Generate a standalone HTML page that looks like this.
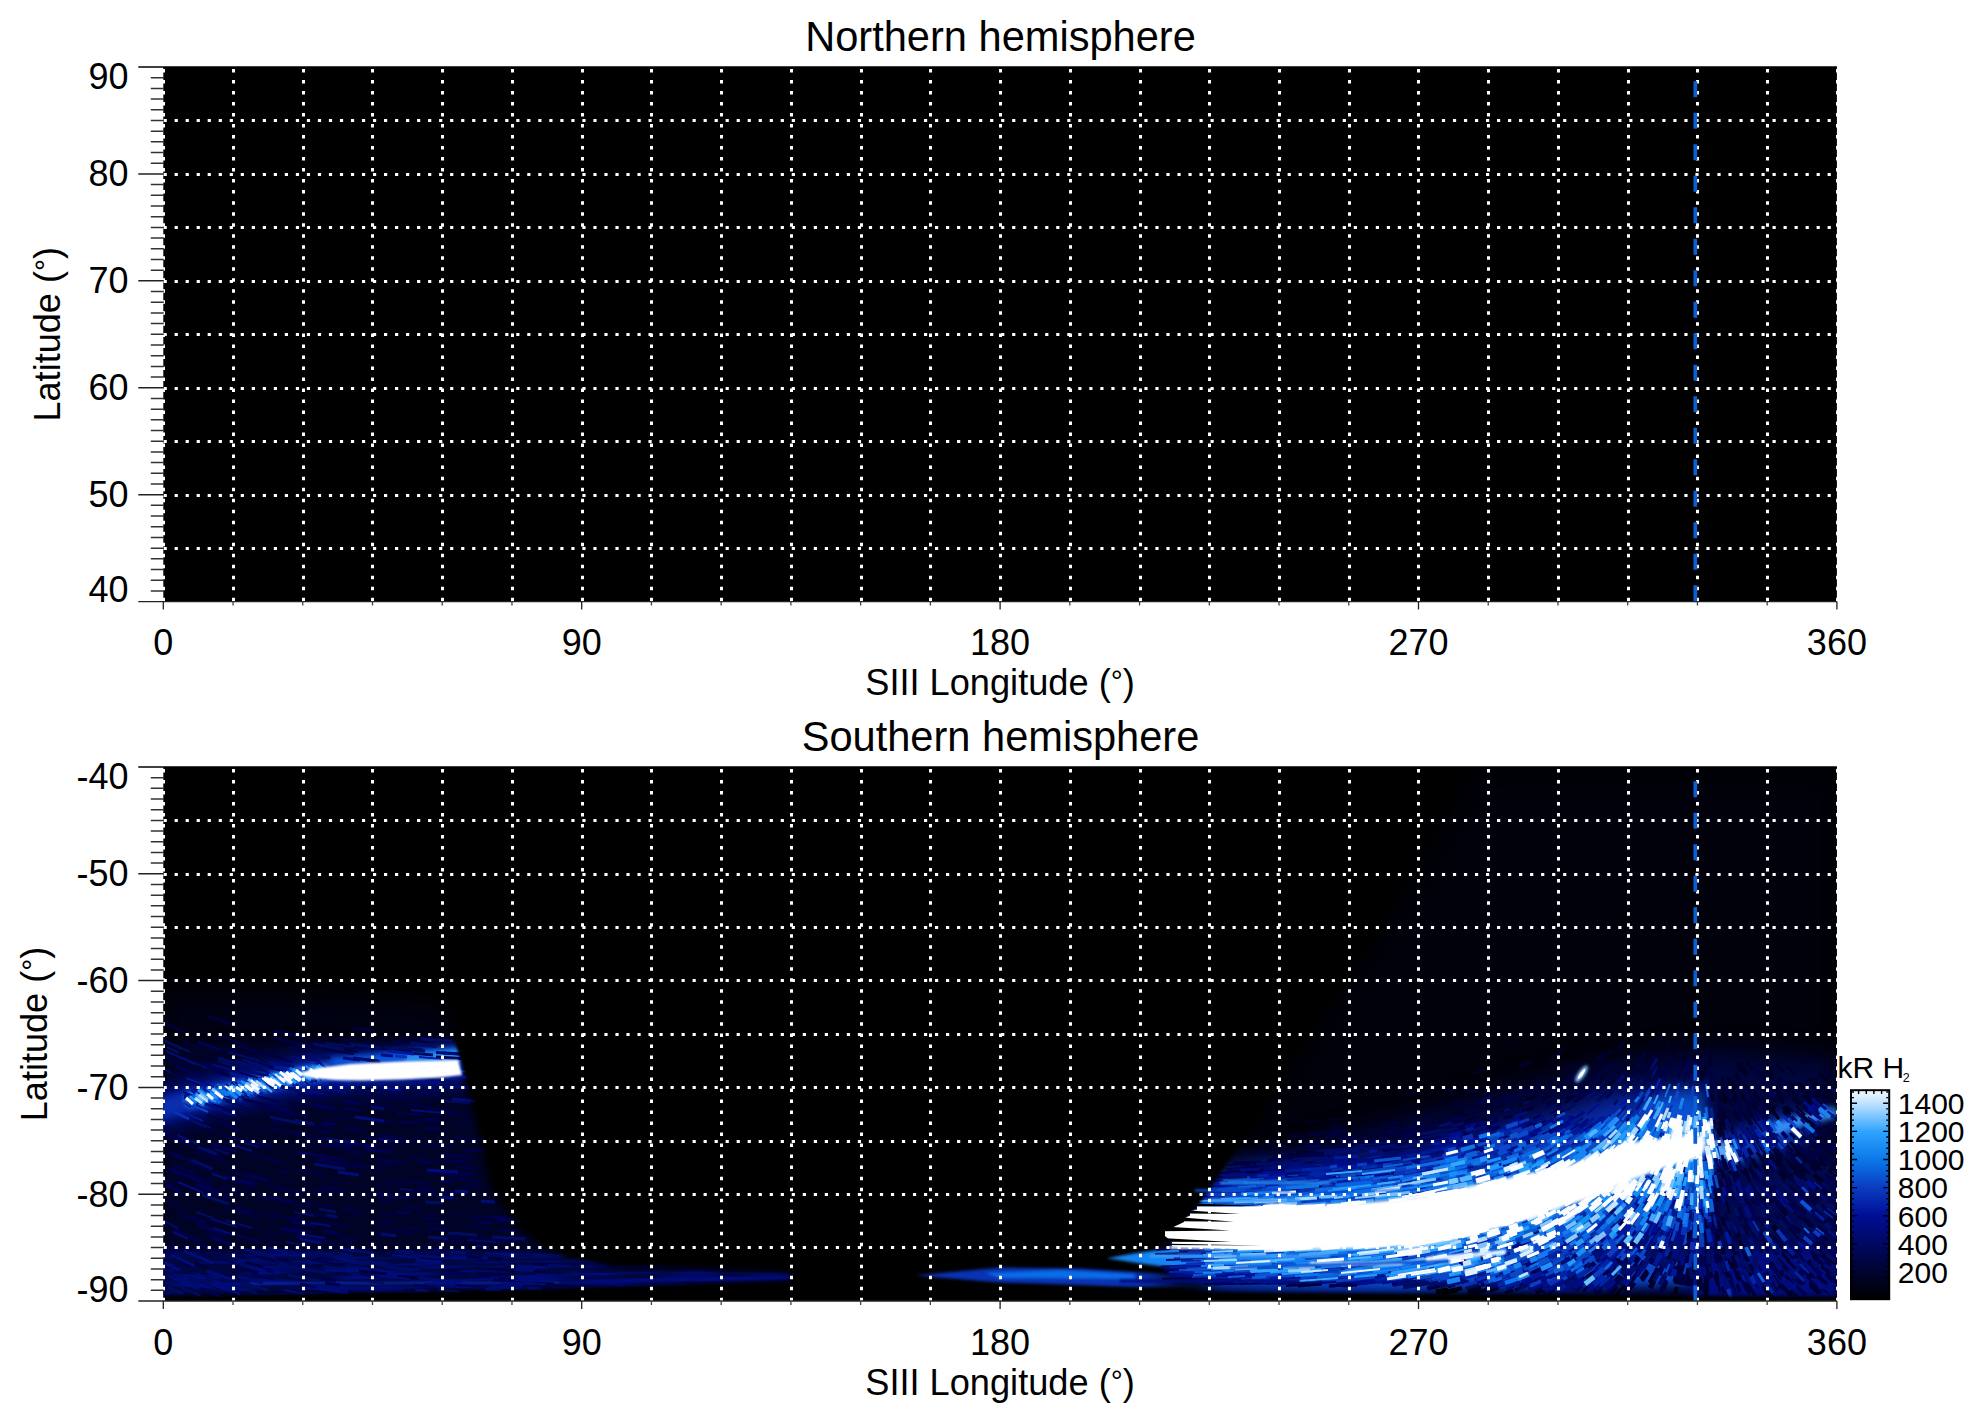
<!DOCTYPE html>
<html lang="en"><head><meta charset="utf-8"><title>Auroral maps</title>
<style>html,body{margin:0;padding:0;background:#fff}body{width:1983px;height:1423px;overflow:hidden}svg{display:block}text{font-family:'Liberation Sans', sans-serif;fill:#000}</style>
</head><body>
<svg width="1983" height="1423" viewBox="0 0 1983 1423">
<defs>
<linearGradient id="cb" x1="0" y1="1" x2="0" y2="0">
<stop offset="0" stop-color="#000000"/>
<stop offset="0.133" stop-color="#000330"/>
<stop offset="0.267" stop-color="#000862"/>
<stop offset="0.4" stop-color="#000e96"/>
<stop offset="0.533" stop-color="#0a3cc0"/>
<stop offset="0.667" stop-color="#0a78e8"/>
<stop offset="0.8" stop-color="#2ea2ff"/>
<stop offset="0.933" stop-color="#bce0ff"/>
<stop offset="1" stop-color="#f4faff"/>
</linearGradient>
<clipPath id="clipS"><rect x="163.3" y="767" width="1673.6" height="534"/></clipPath>
<filter id="b1.5" filterUnits="userSpaceOnUse" x="100" y="740" width="1800" height="600" color-interpolation-filters="sRGB"><feGaussianBlur stdDeviation="1.5"/></filter>
<filter id="b1" filterUnits="userSpaceOnUse" x="100" y="740" width="1800" height="600" color-interpolation-filters="sRGB"><feGaussianBlur stdDeviation="1"/></filter>
<filter id="b2" filterUnits="userSpaceOnUse" x="100" y="740" width="1800" height="600" color-interpolation-filters="sRGB"><feGaussianBlur stdDeviation="2"/></filter>
<filter id="b3" filterUnits="userSpaceOnUse" x="100" y="740" width="1800" height="600" color-interpolation-filters="sRGB"><feGaussianBlur stdDeviation="3"/></filter>
<filter id="b4" filterUnits="userSpaceOnUse" x="100" y="740" width="1800" height="600" color-interpolation-filters="sRGB"><feGaussianBlur stdDeviation="4"/></filter>
<filter id="b5" filterUnits="userSpaceOnUse" x="100" y="740" width="1800" height="600" color-interpolation-filters="sRGB"><feGaussianBlur stdDeviation="5"/></filter>
<filter id="b6" filterUnits="userSpaceOnUse" x="100" y="740" width="1800" height="600" color-interpolation-filters="sRGB"><feGaussianBlur stdDeviation="6"/></filter>
<filter id="b8" filterUnits="userSpaceOnUse" x="100" y="740" width="1800" height="600" color-interpolation-filters="sRGB"><feGaussianBlur stdDeviation="8"/></filter>
<filter id="b12" filterUnits="userSpaceOnUse" x="100" y="740" width="1800" height="600" color-interpolation-filters="sRGB"><feGaussianBlur stdDeviation="12"/></filter>
<filter id="b14" filterUnits="userSpaceOnUse" x="100" y="740" width="1800" height="600" color-interpolation-filters="sRGB"><feGaussianBlur stdDeviation="14"/></filter>
<filter id="b16" filterUnits="userSpaceOnUse" x="100" y="740" width="1800" height="600" color-interpolation-filters="sRGB"><feGaussianBlur stdDeviation="16"/></filter>
<filter id="txH" filterUnits="userSpaceOnUse" x="100" y="740" width="1800" height="600" color-interpolation-filters="sRGB">
<feTurbulence type="fractalNoise" baseFrequency="0.012 0.22" numOctaves="2" seed="4" result="n"/>
<feColorMatrix in="n" type="matrix" values="0 0 0 0 0 0 0 0 0 0 0 0 0 0 0 4 0 0 0 -1.6" result="a"/>
<feGaussianBlur in="SourceGraphic" stdDeviation="3" result="s"/>
<feComposite in="s" in2="a" operator="in"/>
</filter>
<filter id="txD" filterUnits="userSpaceOnUse" x="100" y="740" width="1800" height="600" color-interpolation-filters="sRGB">
<feTurbulence type="fractalNoise" baseFrequency="0.05 0.09" numOctaves="2" seed="11" result="n"/>
<feColorMatrix in="n" type="matrix" values="0 0 0 0 0 0 0 0 0 0 0 0 0 0 0 5 0 0 0 -2.1" result="a"/>
<feGaussianBlur in="SourceGraphic" stdDeviation="4" result="s"/>
<feComposite in="s" in2="a" operator="in"/>
</filter>
<filter id="txN" filterUnits="userSpaceOnUse" x="100" y="740" width="1800" height="600" color-interpolation-filters="sRGB">
<feTurbulence type="fractalNoise" baseFrequency="0.12 0.12" numOctaves="2" seed="5" result="n"/>
<feColorMatrix in="n" type="matrix" values="0 0 0 0 0 0 0 0 0 0 0 0 0 0 0 5 0 0 0 -2.2" result="a"/>
<feGaussianBlur in="SourceGraphic" stdDeviation="10" result="s"/>
<feComposite in="s" in2="a" operator="in"/>
</filter>
<filter id="b0.6" filterUnits="userSpaceOnUse" x="100" y="740" width="1800" height="600" color-interpolation-filters="sRGB"><feGaussianBlur stdDeviation="0.6"/></filter>
<filter id="b10" filterUnits="userSpaceOnUse" x="100" y="740" width="1800" height="600" color-interpolation-filters="sRGB"><feGaussianBlur stdDeviation="10"/></filter>
<filter id="b7" filterUnits="userSpaceOnUse" x="100" y="740" width="1800" height="600" color-interpolation-filters="sRGB"><feGaussianBlur stdDeviation="7"/></filter>
<filter id="b2.5" filterUnits="userSpaceOnUse" x="100" y="740" width="1800" height="600" color-interpolation-filters="sRGB"><feGaussianBlur stdDeviation="2.5"/></filter>
<filter id="b1.2" filterUnits="userSpaceOnUse" x="100" y="740" width="1800" height="600" color-interpolation-filters="sRGB"><feGaussianBlur stdDeviation="1.2"/></filter>
<filter id="b0.8" filterUnits="userSpaceOnUse" x="100" y="740" width="1800" height="600" color-interpolation-filters="sRGB"><feGaussianBlur stdDeviation="0.8"/></filter>

</defs>
<rect width="1983" height="1423" fill="#fff"/>
<rect x="163.3" y="67.0" width="1673.6" height="534.6" fill="#000"/>
<path d="M163.5 68.90V601.60M233.5 68.90V601.60M303.5 68.90V601.60M372.5 68.90V601.60M442.5 68.90V601.60M512.5 68.90V601.60M582.5 68.90V601.60M651.5 68.90V601.60M721.5 68.90V601.60M791.5 68.90V601.60M861.5 68.90V601.60M930.5 68.90V601.60M1000.5 68.90V601.60M1070.5 68.90V601.60M1140.5 68.90V601.60M1209.5 68.90V601.60M1279.5 68.90V601.60M1349.5 68.90V601.60M1418.5 68.90V601.60M1488.5 68.90V601.60M1558.5 68.90V601.60M1628.5 68.90V601.60M1697.5 68.90V601.60M1767.5 68.90V601.60M1837.5 68.90V601.60" stroke="#fff" stroke-width="3" stroke-dasharray="3.5 7.52" fill="none"/>
<path d="M163.60 120.5H1836.90M163.60 174.5H1836.90M163.60 227.5H1836.90M163.60 281.5H1836.90M163.60 334.5H1836.90M163.60 388.5H1836.90M163.60 441.5H1836.90M163.60 495.5H1836.90M163.60 548.5H1836.90" stroke="#fff" stroke-width="3" stroke-dasharray="3.2 7.82" fill="none"/>
<path d="M1695.3 81.2V601.6" stroke="#0a5fd2" stroke-width="3.7" stroke-dasharray="16 15.5" fill="none"/>
<path d="M138.3 67.0H1836.9" stroke="#000" stroke-width="1.4" fill="none"/>
<path d="M138.3 601.6H1836.9" stroke="#222" stroke-width="1.4" fill="none"/>
<path d="M138.3 173.92H163.8M138.3 280.84H163.8M138.3 387.76H163.8M138.3 494.68H163.8" stroke="#222" stroke-width="1.5" fill="none"/>
<path d="M150.8 77.69H163.8M150.8 88.38H163.8M150.8 99.08H163.8M150.8 109.77H163.8M150.8 120.46H163.8M150.8 131.15H163.8M150.8 141.84H163.8M150.8 152.54H163.8M150.8 163.23H163.8M150.8 184.61H163.8M150.8 195.30H163.8M150.8 206.00H163.8M150.8 216.69H163.8M150.8 227.38H163.8M150.8 238.07H163.8M150.8 248.76H163.8M150.8 259.46H163.8M150.8 270.15H163.8M150.8 291.53H163.8M150.8 302.22H163.8M150.8 312.92H163.8M150.8 323.61H163.8M150.8 334.30H163.8M150.8 344.99H163.8M150.8 355.68H163.8M150.8 366.38H163.8M150.8 377.07H163.8M150.8 398.45H163.8M150.8 409.14H163.8M150.8 419.84H163.8M150.8 430.53H163.8M150.8 441.22H163.8M150.8 451.91H163.8M150.8 462.60H163.8M150.8 473.30H163.8M150.8 483.99H163.8M150.8 505.37H163.8M150.8 516.06H163.8M150.8 526.76H163.8M150.8 537.45H163.8M150.8 548.14H163.8M150.8 558.83H163.8M150.8 569.52H163.8M150.8 580.22H163.8M150.8 590.91H163.8" stroke="#333" stroke-width="1.5" fill="none"/>
<path d="M163.30 601.6V609.6M581.70 601.6V609.6M1000.10 601.6V609.6M1418.50 601.6V609.6M1836.90 601.6V609.6" stroke="#222" stroke-width="1.3" fill="none"/>
<path d="M233.03 601.6V605.6M302.77 601.6V605.6M372.50 601.6V605.6M442.23 601.6V605.6M511.97 601.6V605.6M651.43 601.6V605.6M721.17 601.6V605.6M790.90 601.6V605.6M860.63 601.6V605.6M930.37 601.6V605.6M1069.83 601.6V605.6M1139.57 601.6V605.6M1209.30 601.6V605.6M1279.03 601.6V605.6M1348.77 601.6V605.6M1488.23 601.6V605.6M1557.97 601.6V605.6M1627.70 601.6V605.6M1697.43 601.6V605.6M1767.17 601.6V605.6" stroke="#444" stroke-width="1.3" fill="none"/>
<text x="128.5" y="89.0" font-size="36" text-anchor="end">90</text>
<text x="128.5" y="186.3" font-size="36" text-anchor="end">80</text>
<text x="128.5" y="293.2" font-size="36" text-anchor="end">70</text>
<text x="128.5" y="400.2" font-size="36" text-anchor="end">60</text>
<text x="128.5" y="507.1" font-size="36" text-anchor="end">50</text>
<text x="128.5" y="602.1" font-size="36" text-anchor="end">40</text>
<text x="163.3" y="654.9" font-size="36" text-anchor="middle">0</text>
<text x="581.7" y="654.9" font-size="36" text-anchor="middle">90</text>
<text x="1000.1" y="654.9" font-size="36" text-anchor="middle">180</text>
<text x="1418.5" y="654.9" font-size="36" text-anchor="middle">270</text>
<text x="1836.9" y="654.9" font-size="36" text-anchor="middle">360</text>
<text x="1000" y="694.6" font-size="36.2" text-anchor="middle">SIII Longitude (<tspan font-size="30" dy="-4">°</tspan><tspan dy="4">)</tspan></text>
<text x="1000.5" y="51.0" font-size="41.6" text-anchor="middle">Northern hemisphere</text>
<text transform="translate(60.3 334.3) rotate(-90)" font-size="36.1" text-anchor="middle">Latitude (<tspan font-size="30" dy="-4">°</tspan><tspan dy="4">)</tspan></text>
<rect x="163.3" y="767.0" width="1673.6" height="534.0" fill="#000"/>
<g clip-path="url(#clipS)">
<path d="M163.0 990.0L300.0 995.0L442.0 1005.0L458.0 1050.0L163.0 1050.0Z" fill="#000112" filter="url(#b12)"/>
<path d="M163.0 1044.0L300.0 1040.0L457.0 1046.0L476.0 1112.0L494.0 1188.0L520.0 1226.0L565.0 1262.0L620.0 1268.0L790.0 1274.0L790.0 1282.0L500.0 1291.0L163.0 1298.0Z" fill="#000326" filter="url(#b6)"/>
<path d="M163.0 1251.0L560.0 1253.0L610.0 1268.0L790.0 1274.0L790.0 1280.0L500.0 1289.0L163.0 1295.0Z" fill="#00063e" filter="url(#b2)"/>
<path d="M163.0 1251.0L560.0 1253.0L610.0 1268.0L790.0 1274.0L790.0 1280.0L500.0 1289.0L163.0 1295.0Z" fill="#000c7c" filter="url(#txH)"/>
<path d="M250.0 1283.5L560.0 1282.5" fill="none" stroke="#0a2aa8" stroke-width="2" filter="url(#b1)"/>
<path d="M560.0 1282.5L700.0 1279.5L790.0 1277.0" fill="none" stroke="#000c7c" stroke-width="2.5" filter="url(#b1)"/>
<path d="M150.0 1112.0C158.3 1109.7 185.0 1102.0 200.0 1098.0C215.0 1094.0 226.7 1091.0 240.0 1088.0C253.3 1085.0 266.7 1082.5 280.0 1080.0C293.3 1077.5 303.3 1074.7 320.0 1073.0C336.7 1071.3 356.3 1071.2 380.0 1070.0C403.7 1068.8 448.3 1066.7 462.0 1066.0" fill="none" stroke="#000c78" stroke-width="44" filter="url(#b8)" opacity="0.9"/>
<path d="M150.0 1112.0C158.3 1109.7 185.0 1102.0 200.0 1098.0C215.0 1094.0 226.7 1091.0 240.0 1088.0C253.3 1085.0 266.7 1082.5 280.0 1080.0C293.3 1077.5 303.3 1074.7 320.0 1073.0C336.7 1071.3 356.3 1071.2 380.0 1070.0C403.7 1068.8 448.3 1066.7 462.0 1066.0" fill="none" stroke="#0a2eb0" stroke-width="22" filter="url(#b4)"/>
<path d="M186.0 1101.0C188.3 1100.5 192.2 1099.4 200.0 1097.8C207.8 1096.2 221.8 1093.7 232.6 1091.3C243.4 1088.9 254.2 1085.8 264.9 1083.3C275.6 1080.8 286.1 1078.0 297.0 1076.0C307.9 1074.0 324.5 1071.8 330.0 1071.0" fill="none" stroke="#1464dc" stroke-width="16" filter="url(#b2.5)"/>
<path d="M330.0 1058.0L400.0 1051.0L458.0 1046.0L462.0 1064.0L400.0 1064.0L330.0 1066.0Z" fill="#0a5ae0" filter="url(#b3)"/>
<path d="M405.0 1055.0L458.0 1049.5L461.0 1062.0L405.0 1062.0Z" fill="#2a90f0" filter="url(#b2)"/>
<path d="M225.0 1093.0C231.7 1091.4 252.9 1086.1 264.9 1083.3C276.9 1080.5 287.0 1078.0 297.0 1076.0C307.0 1074.0 320.3 1072.2 325.0 1071.5" fill="none" stroke="#8cc6ff" stroke-width="10" filter="url(#b2.5)"/>
<path d="M186.0 1100.5C188.3 1100.0 193.5 1098.8 200.0 1097.5C206.5 1096.2 220.8 1093.8 225.0 1093.0" fill="none" stroke="#78bcff" stroke-width="8" filter="url(#b2.5)"/>
<g filter="url(#b0.6)">
<path d="M452 1215l32 2M345 1050l13 2M319 1108l19 3M249 1211l28 7M274 1162l14 3M221 1124l11 4M236 1211l24 7M208 1129l15 5M329 1180l19 3M208 1148l19 7M452 1236l34 2M344 1247l28 4M377 1186l14 2M178 1062l25 11M155 1176l27 14M333 1243l21 3M459 1181l20 1M164 1199l20 10M403 1037l27 2M275 1117l31 6M481 1290l33 2M411 1258l29 2M496 1220l18 1M220 1037l30 9M416 1213l22 2M367 1101l19 2M450 1179l29 2M298 1141l33 6M470 1219l30 2M201 1154l21 8M266 1231l33 7M338 1118l14 2M456 1124l18 1M426 1223l20 2M207 1115l29 10M213 1121l29 9M297 1190l22 4M315 1041l19 3M183 1041l18 8M489 1269l31 2M231 1222l30 9M157 1195l24 12M376 1223l15 2M239 1122l27 7M330 1234l15 2M334 1113l24 3M246 1262l17 5M424 1219l32 2M433 1239l16 1M348 1213l16 2M222 1222l26 8M411 1137l13 1M384 1182l24 2M503 1249l12 1M302 1211l17 3" stroke="#00003c" stroke-width="2" fill="none"/>
<path d="M524 1270l15 1M375 1144l20 2M218 1187l21 7M379 1213l16 2M273 1038l33 7M421 1145l30 2M355 1166l16 2M207 1016l24 8M314 1241l27 4M223 1048l31 9M194 1263l13 5M441 1113l30 2M463 1227l28 2M188 1173l24 9M488 1258l14 1M399 1197l14 1M262 1239l18 4M340 1039l12 2M323 1119l14 2M353 1028l21 3M398 1276l29 3M318 1188l27 4M359 1271l28 3M446 1241l33 2M269 1186l23 5M361 1104l22 3M488 1242l29 1M156 1262l13 7M290 1222l28 5M226 1186l20 6M350 1162l12 2M441 1154l25 2M295 1222l22 4M318 1204l13 2M454 1138l30 2M400 1104l32 3M280 1201l32 7M249 1194l28 7M296 1170l29 5M393 1189l32 3M252 1051l30 7M439 1195l13 1M159 1053l21 11M378 1199l14 2M424 1190l15 1M462 1185l19 1M367 1167l17 2M386 1230l29 3M470 1239l23 1M169 1178l14 7M207 1219l14 5M417 1187l15 1M165 1023l19 9M196 1152l31 11M289 1102l29 5M272 1214l17 4M318 1222l31 5M300 1201l25 4M541 1289l12 0" stroke="#00003c" stroke-width="3" fill="none"/>
<path d="M408 1157l20 2M332 1163l33 5M247 1140l26 7M189 1277l31 12M418 1120l26 2M343 1208l17 2M297 1134l27 5M538 1272l12 0M180 1214l31 13M176 1140l28 12M292 1132l21 4M224 1178l32 9M229 1170l19 6M427 1109l26 2M277 1170l12 3M447 1270l13 1M224 1207l23 7M224 1136l23 7M359 1087l13 2M449 1175l13 1M270 1106l13 3M310 1260l33 5M277 1259l14 3M485 1217l30 2M321 1049l33 5M408 1182l22 2M318 1240l13 2M255 1256l20 5M314 1265l26 4M280 1189l24 5M433 1240l20 2M302 1123l30 5M443 1237l17 1M313 1190l17 3M204 1188l22 8M424 1119l13 1M499 1278l19 1M260 1105l24 6M187 1162l31 12M358 1075l20 2M402 1227l20 2M234 1045l27 8M421 1088l16 1M278 1114l13 3M249 1154l32 8M345 1102l18 2M395 1041l16 2M306 1213l29 5M270 1128l28 6M397 1122l21 2M422 1218l17 1M183 1245l23 9M373 1105l24 3M320 1144l29 5M321 1138l18 3M382 1221l13 1M167 1168l18 9M407 1207l13 1M515 1282l16 1M427 1118l15 1M323 1186l17 3M546 1285l23 1M379 1164l16 2M446 1156l27 2" stroke="#000048" stroke-width="2" fill="none"/>
<path d="M380 1136l22 2M274 1031l29 6M391 1097l29 3M492 1239l28 1M320 1278l16 3M243 1099l30 8M464 1150l23 1M257 1064l29 7M406 1192l32 3M467 1257l15 1M234 1266l24 7M271 1121l14 3M369 1095l26 3M459 1167l17 1M213 1070l17 6M477 1273l32 2M477 1276l14 1M198 1188l32 11M427 1228l21 2M404 1122l15 1M377 1233l20 2M200 1245l25 9M366 1138l24 3M342 1128l23 3M320 1160l30 5M347 1151l15 2M315 1130l15 3M287 1217l19 4M232 1138l24 7M320 1156l26 4M276 1110l32 7M359 1118l32 4M223 1063l25 8M190 1216l15 6M207 1152l14 5M254 1144l13 3M429 1173l18 1M235 1208l17 5M460 1173l16 1M532 1283l22 1M295 1044l21 4M376 1160l29 3M206 1233l17 6M339 1238l17 2M179 1261l15 6M178 1138l12 5M197 1180l15 6M284 1227l24 5M440 1181l14 1M444 1174l24 2M220 1273l16 5M532 1264l27 1M435 1160l33 2M325 1283l15 2M397 1141l15 1M443 1053l19 1M515 1237l14 1M221 1124l17 6M445 1192l13 1M173 1230l29 12M160 1220l21 10M418 1162l14 1" stroke="#000048" stroke-width="3" fill="none"/>
<path d="M431 1254l20 2M356 1274l31 4M436 1052l12 1M365 1149l29 3M229 1233l32 9M503 1267l24 1M499 1230l18 1M380 1195l30 3M263 1082l33 7M174 1165l21 9M214 1105l24 8M161 1244l16 8M270 1197l24 5M316 1160l21 3M332 1144l21 3M423 1247l21 2M289 1047l17 3M187 1078l12 5M257 1096l23 6M475 1222l17 1M397 1113l25 2M414 1285l21 2M234 1071l31 9M191 1285l31 12M455 1285l32 2M255 1106l18 5M169 1275l28 13M228 1101l19 6M242 1276l14 4M219 1258l16 5M189 1270l24 9M373 1048l30 3M175 1074l25 11M377 1193l16 2M251 1274l24 6M279 1059l13 3M186 1159l12 5" stroke="#000054" stroke-width="2" fill="none"/>
<path d="M247 1265l26 7M297 1152l28 5M169 1152l15 7M170 1168l31 14M319 1258l14 2M233 1254l14 4M198 1042l23 8M166 1185l16 8M280 1228l27 6M426 1128l13 1M395 1050l17 2M498 1220l25 1M177 1066l22 10M298 1094l30 5M344 1108l15 2M297 1266l28 5M202 1063l25 9M198 1225l29 10M442 1272l28 2M293 1222l22 4M364 1149l24 3M322 1123l14 2M297 1235l26 5M196 1184l24 9M267 1105l24 6M436 1057l32 2M246 1175l24 6M224 1176l28 8M323 1231l15 2M242 1180l15 4M171 1246l12 6M363 1044l12 2M159 1249l19 9M345 1143l31 4M314 1105l23 4M199 1100l22 8M161 1131l16 8M493 1217l13 1M418 1092l20 2M344 1101l14 2M367 1060l13 2M210 1237l26 9M397 1212l13 1M210 1143l26 9M227 1100l15 5M493 1280l26 1M300 1284l28 5" stroke="#000054" stroke-width="3" fill="none"/>
<path d="M355 1262l31 4M163 1040l19 9" stroke="#000c54" stroke-width="3" fill="none"/>
<path d="M246 1066l22 6M196 1273l17 7M190 1277l26 10M221 1098l17 5M229 1285l28 8M172 1044l18 8M400 1189l13 1M215 1149l14 5M286 1242l22 4M215 1087l30 10M196 1122l15 6M228 1052l32 9M467 1240l29 2M152 1215l26 13M167 1047l12 6M241 1264l19 5M196 1212l17 6M442 1101l28 2M237 1103l13 4M262 1074l23 5M340 1067l16 2M280 1119l13 3M160 1067l11 6M425 1284l15 1M294 1212l20 4M182 1058l25 10M365 1281l19 2M325 1043l29 4M348 1273l12 2M314 1252l29 5M242 1060l16 4M362 1261l29 3M225 1220l27 8M198 1097l11 4M180 1287l21 9M404 1254l31 3M218 1061l25 8M346 1265l27 4M244 1143l15 4M342 1259l21 3" stroke="#000c60" stroke-width="2" fill="none"/>
<path d="M523 1282l13 1M438 1290l22 2M168 1287l15 7M270 1117l33 7M448 1233l29 2M353 1058l25 3M294 1120l20 4M356 1287l28 3M326 1215l12 2M208 1095l25 8M429 1080l25 2M241 1283l27 7M308 1054l22 4M492 1237l33 2M188 1278l12 5M288 1275l32 6M398 1048l25 2M339 1254l14 2M191 1160l22 9M414 1067l14 1M248 1081l31 8M371 1107l13 2M218 1058l29 9M273 1062l21 5M415 1086l21 2M319 1209l17 3M198 1147l19 7M350 1044l30 4M395 1251l15 2M202 1195l27 9M236 1263l17 5M428 1237l20 2M410 1043l22 2M278 1264l33 7M533 1255l31 1M409 1053l24 2M301 1268l26 5M313 1044l30 5M405 1049l20 2M425 1202l18 1" stroke="#000c60" stroke-width="3" fill="none"/>
<path d="M212 1064l28 9M213 1228l21 7M402 1268l18 2M476 1246l13 1M236 1061l23 7M485 1253l31 2M289 1056l21 4M416 1045l21 2M228 1093l18 6M548 1265l23 1M176 1277l24 11M379 1139l16 2M323 1266l23 4M300 1234l25 4M353 1275l12 2M212 1219l25 8M311 1223l20 3M424 1284l31 2M415 1262l30 2" stroke="#000c6c" stroke-width="2" fill="none"/>
<path d="M293 1088l23 4M440 1197l14 1M327 1139l29 4M268 1248l20 4M342 1261l24 3M445 1086l30 2M451 1252l15 1M314 1164l31 5M157 1082l17 9M280 1087l33 7M300 1239l20 4M421 1039l31 2M418 1278l15 1M181 1116l25 11M243 1249l32 8M492 1287l29 1M349 1250l16 2M536 1275l19 1M239 1069l32 8M274 1079l13 3M313 1285l30 5M334 1290l13 2M193 1080l17 7M385 1267l28 3M516 1268l20 1M415 1290l13 1M371 1262l16 2M381 1234l15 2M528 1288l13 1M425 1081l16 1M238 1276l25 7M341 1249l32 4" stroke="#000c6c" stroke-width="3" fill="none"/>
<path d="M194 1092l8 6M231 1094l6 5M321 1075l6 4M204 1086l9 7M276 1082l9 7M247 1088l7 5M241 1092l8 6M177 1135l20 9M169 1276l29 13M166 1051l29 13M301 1058l18 3M411 1110l32 3M516 1283l29 1M392 1255l28 3M378 1276l31 3M215 1286l25 8M514 1270l19 1M248 1062l21 6M212 1174l15 5M335 1258l21 3M173 1232l15 7M436 1053l31 2M178 1182l26 11M193 1089l15 6M401 1251l13 1M284 1290l21 4M215 1281l27 9M230 1144l22 7M514 1280l28 1M183 1092l13 5" stroke="#000c78" stroke-width="2" fill="none"/>
<path d="M193 1102l8 7M292 1076l7 6M218 1094l7 6M302 1078l7 6M231 1083l8 6M187 1094l7 6M189 1098l6 5M452 1099l24 2M250 1267l16 4M355 1117l29 4M343 1058l17 2M432 1280l30 2M362 1073l22 3M289 1076l28 5M163 1262l17 8M416 1260l26 2M507 1284l16 1M455 1191l13 1M427 1170l31 2M316 1288l32 5M338 1172l21 3M501 1254l16 1M184 1251l29 12M433 1281l23 2M485 1289l16 1M499 1284l24 1M481 1201l14 1M207 1271l27 9M171 1255l24 11M242 1086l19 5" stroke="#000c78" stroke-width="3" fill="none"/>
<path d="M270 1084l6 4M184 1095l8 6M235 1082l8 6M226 1094l8 6M223 1092l9 7M191 1090l6 5M298 1089l26 5M412 1081l27 2M223 1112l13 4M269 1062l20 5M386 1075l17 2" stroke="#000c84" stroke-width="2" fill="none"/>
<path d="M292 1081l6 5M198 1098l8 6M318 1062l8 7M254 1078l6 4M306 1076l6 5M247 1090l6 5M184 1097l8 6M252 1088l7 5M247 1079l7 5M319 1067l8 6M206 1088l9 7M185 1096l6 4M193 1098l6 5M191 1098l31 12M185 1095l23 9M203 1084l31 11M381 1055l12 1" stroke="#000c84" stroke-width="3" fill="none"/>
<path d="M315 1063l9 7M193 1094l9 7M191 1103l6 5M191 1098l7 5M297 1076l7 6M326 1089l20 3M370 1071l23 3" stroke="#000c90" stroke-width="2" fill="none"/>
<path d="M210 1090l7 6M295 1076l9 7M223 1090l7 6M266 1072l7 5M189 1095l6 5M383 1088l18 2M329 1084l17 3" stroke="#000c90" stroke-width="3" fill="none"/>
<path d="M285 1073l7 5M240 1089l7 6M216 1086l8 6M226 1084l8 6M245 1079l8 6M203 1088l9 7M221 1086l8 6M230 1073l18 5M185 1113l18 8M186 1078l29 11" stroke="#001890" stroke-width="2" fill="none"/>
<path d="M293 1074l6 5M196 1090l6 5M306 1077l7 6M303 1068l6 5M240 1091l6 5M193 1097l6 5M320 1074l6 4M243 1084l9 7M185 1095l8 6M189 1097l8 6M287 1079l7 6M224 1095l15 5" stroke="#001890" stroke-width="3" fill="none"/>
<path d="M210 1090l9 7M285 1072l7 5M210 1088l6 5M279 1079l7 5M196 1095l6 5M194 1092l9 7M187 1102l7 5M204 1090l6 4M453 1076l14 1M419 1057l23 2M225 1085l19 6" stroke="#00189c" stroke-width="2" fill="none"/>
<path d="M262 1085l7 6M207 1100l6 4M255 1088l8 6M271 1077l6 5M314 1073l8 7M197 1095l9 7M253 1079l6 5M237 1084l6 5M234 1092l7 5M260 1082l9 7M265 1077l6 5M274 1067l21 5M388 1051l26 3" stroke="#00189c" stroke-width="3" fill="none"/>
<path d="M288 1077l8 6M271 1085l7 5M247 1088l9 7M230 1093l6 5M217 1095l8 7M289 1081l7 5M321 1065l6 5" stroke="#00249c" stroke-width="3" fill="none"/>
<path d="M294 1078l7 5M186 1098l8 7M259 1083l6 5M255 1082l14 4M325 1071l14 2" stroke="#0024a8" stroke-width="2" fill="none"/>
<path d="M215 1087l7 5M306 1066l9 7M227 1091l9 7M305 1074l8 6M261 1078l7 5M188 1100l9 7M184 1102l7 5M299 1076l6 5M433 1065l15 1M296 1073l31 6" stroke="#0024a8" stroke-width="3" fill="none"/>
<path d="M206 1091l7 6" stroke="#0030a8" stroke-width="2" fill="none"/>
<path d="M249 1080l7 5" stroke="#0c30a8" stroke-width="2" fill="none"/>
<path d="M294 1078l9 7" stroke="#0c30a8" stroke-width="3" fill="none"/>
<path d="M206 1093l9 7M316 1072l9 7M239 1085l6 4M212 1093l7 6M294 1077l8 7M209 1094l8 6M335 1080l16 2M390 1077l24 2" stroke="#0c30b4" stroke-width="2" fill="none"/>
<path d="M293 1076l6 5M243 1078l9 7M260 1077l8 6M239 1083l9 7M307 1071l9 7M274 1074l8 6M266 1078l6 5M238 1086l7 5M294 1075l8 7M295 1074l6 5M203 1098l7 5M254 1078l9 7M244 1088l7 5M303 1077l7 5M281 1073l7 6M248 1090l6 5M174 1112l15 7M395 1056l12 1" stroke="#0c30b4" stroke-width="3" fill="none"/>
<path d="M207 1093l9 7M196 1093l6 5M315 1066l9 7M231 1085l9 7M241 1083l8 6M447 1070l26 2" stroke="#0c3cc0" stroke-width="2" fill="none"/>
<path d="M267 1077l7 5M277 1077l7 6M193 1096l6 5M240 1086l7 5M262 1084l7 6M252 1088l6 5M218 1088l6 5M192 1095l6 5M259 1081l6 5M254 1087l7 5M193 1095l9 7M245 1086l9 7M195 1097l8 7M433 1065l26 2" stroke="#0c3cc0" stroke-width="3" fill="none"/>
<path d="M270 1076l8 6M200 1092l8 6M217 1089l9 7M206 1087l8 6M182 1101l26 11" stroke="#0c48c0" stroke-width="2" fill="none"/>
<path d="M298 1070l7 5M318 1065l9 7M307 1074l8 6M303 1077l6 5M218 1086l6 4M236 1089l8 6" stroke="#0c48c0" stroke-width="3" fill="none"/>
<path d="M193 1098l7 5M257 1087l6 5M310 1067l8 6M231 1092l6 5M225 1087l8 6M211 1087l9 7M286 1073l9 7M315 1067l32 5" stroke="#0c48cc" stroke-width="2" fill="none"/>
<path d="M189 1096l6 4M275 1074l9 7M206 1097l7 5M299 1070l9 7M214 1087l8 6M213 1094l9 7M291 1070l6 5M305 1066l8 6M187 1099l8 6M227 1092l8 7" stroke="#0c48cc" stroke-width="3" fill="none"/>
<path d="M315 1072l8 7M261 1082l9 7M193 1097l7 6" stroke="#0c54cc" stroke-width="2" fill="none"/>
<path d="M229 1090l7 5M258 1084l9 7M297 1069l6 4M217 1084l8 6M317 1073l7 6M230 1087l6 5M305 1071l7 5M277 1078l7 5M362 1069l30 3" stroke="#0c54cc" stroke-width="3" fill="none"/>
<path d="M283 1072l8 6M290 1068l8 6" stroke="#0c54d8" stroke-width="2" fill="none"/>
<path d="M315 1065l8 6M195 1093l7 6M196 1095l7 6M232 1093l6 4" stroke="#0c54d8" stroke-width="3" fill="none"/>
<path d="M258 1078l7 6M290 1076l8 7M203 1092l7 6M186 1099l7 5" stroke="#0c60d8" stroke-width="2" fill="none"/>
<path d="M190 1097l6 5M219 1089l8 6M310 1066l9 7M241 1087l9 7M301 1074l7 5M278 1076l9 7M211 1096l9 7M313 1075l6 5M241 1082l8 7M285 1078l8 6M319 1067l7 5M270 1075l8 6M251 1087l7 5M198 1096l8 6" stroke="#0c60d8" stroke-width="3" fill="none"/>
<path d="M192 1097l7 5" stroke="#0c60e4" stroke-width="2" fill="none"/>
<path d="M187 1097l9 7M266 1080l9 7" stroke="#0c60e4" stroke-width="3" fill="none"/>
<path d="M270 1078l6 5M193 1095l9 7M295 1077l6 4M265 1080l8 6M239 1086l9 7M206 1088l8 6M316 1068l8 6M321 1067l8 6" stroke="#0c6ce4" stroke-width="2" fill="none"/>
<path d="M196 1097l8 6M283 1072l8 6M287 1071l9 7M290 1068l8 6M319 1069l9 7M222 1090l7 5M228 1089l7 5M201 1093l7 5M280 1078l7 6M283 1072l9 7M244 1087l9 7M354 1068l18 2" stroke="#0c6ce4" stroke-width="3" fill="none"/>
<path d="M269 1074l6 5" stroke="#0c78e4" stroke-width="2" fill="none"/>
<path d="M239 1086l6 4M240 1085l8 6M218 1088l9 7" stroke="#0c78e4" stroke-width="3" fill="none"/>
<path d="M223 1090l6 5M190 1097l7 5M301 1072l9 7M272 1081l8 7M206 1093l6 4" stroke="#0c78f0" stroke-width="3" fill="none"/>
<path d="M214 1088l8 7" stroke="#1878f0" stroke-width="2" fill="none"/>
<path d="M284 1074l9 7M234 1086l7 6M210 1092l8 7M268 1077l9 7M235 1090l6 5" stroke="#1878f0" stroke-width="3" fill="none"/>
<path d="M273 1073l9 7M270 1082l7 5" stroke="#1884f0" stroke-width="2" fill="none"/>
<path d="M291 1073l9 7M312 1066l8 6M317 1069l8 6M228 1091l9 7M276 1078l8 6M208 1094l6 4" stroke="#1884f0" stroke-width="3" fill="none"/>
<path d="M295 1075l9 7M293 1071l8 6" stroke="#1890f0" stroke-width="2" fill="none"/>
<path d="M260 1082l9 7M318 1065l7 6M293 1071l7 5" stroke="#1890f0" stroke-width="3" fill="none"/>
<path d="M241 1081l9 7M209 1097l7 5" stroke="#1890fc" stroke-width="2" fill="none"/>
<path d="M254 1080l7 5M306 1066l9 7" stroke="#2490fc" stroke-width="2" fill="none"/>
<path d="M319 1071l6 4M295 1072l6 5M319 1070l6 5M198 1095l9 7M210 1093l6 5M293 1073l9 7M208 1097l6 4M197 1099l7 6" stroke="#2490fc" stroke-width="3" fill="none"/>
<path d="M190 1096l6 5M321 1068l6 4" stroke="#249cfc" stroke-width="2" fill="none"/>
<path d="M233 1088l8 7M276 1074l8 6M316 1066l7 6M248 1083l7 6M304 1075l7 5M227 1087l6 5M288 1077l8 6M284 1073l6 4M293 1069l8 6M198 1090l8 6M309 1068l6 5" stroke="#249cfc" stroke-width="3" fill="none"/>
<path d="M236 1087l6 4" stroke="#30a8fc" stroke-width="3" fill="none"/>
<path d="M231 1085l6 5" stroke="#3ca8fc" stroke-width="3" fill="none"/>
<path d="M229 1086l6 5" stroke="#48a8fc" stroke-width="2" fill="none"/>
<path d="M196 1094l6 5M284 1077l8 6" stroke="#48a8fc" stroke-width="3" fill="none"/>
<path d="M238 1084l8 6" stroke="#54b4fc" stroke-width="2" fill="none"/>
<path d="M263 1085l9 7" stroke="#60b4fc" stroke-width="2" fill="none"/>
<path d="M271 1077l8 6" stroke="#60b4fc" stroke-width="3" fill="none"/>
<path d="M283 1079l7 5M308 1071l8 6" stroke="#6cc0fc" stroke-width="2" fill="none"/>
<path d="M198 1096l6 4M246 1083l8 6M248 1079l8 6" stroke="#6cc0fc" stroke-width="3" fill="none"/>
<path d="M253 1084l7 5" stroke="#78c0fc" stroke-width="2" fill="none"/>
<path d="M312 1073l6 5" stroke="#78c0fc" stroke-width="3" fill="none"/>
<path d="M246 1084l8 6" stroke="#84c0fc" stroke-width="2" fill="none"/>
<path d="M200 1094l8 6" stroke="#84c0fc" stroke-width="3" fill="none"/>
<path d="M318 1071l8 6M314 1071l6 5" stroke="#84ccfc" stroke-width="3" fill="none"/>
<path d="M251 1080l9 7M240 1086l7 5" stroke="#90ccfc" stroke-width="2" fill="none"/>
<path d="M212 1089l8 6" stroke="#90ccfc" stroke-width="3" fill="none"/>
<path d="M264 1079l9 7" stroke="#9cccfc" stroke-width="2" fill="none"/>
<path d="M264 1077l8 6" stroke="#9cd8fc" stroke-width="3" fill="none"/>
<path d="M266 1077l9 7" stroke="#a8d8fc" stroke-width="2" fill="none"/>
<path d="M256 1081l9 7M252 1088l7 5" stroke="#b4d8fc" stroke-width="3" fill="none"/>
<path d="M199 1095l9 7" stroke="#c0e4fc" stroke-width="2" fill="none"/>
<path d="M195 1098l7 5M245 1085l6 5" stroke="#c0e4fc" stroke-width="3" fill="none"/>
<path d="M275 1074l8 7" stroke="#d8f0fc" stroke-width="2" fill="none"/>
<path d="M245 1085l7 5" stroke="#e4f0fc" stroke-width="3" fill="none"/>
<path d="M280 1072l9 7M262 1078l9 7M267 1078l7 6M267 1080l7 5M251 1080l7 6M270 1078l6 5M225 1086l6 4" stroke="#fcfcfc" stroke-width="2" fill="none"/>
<path d="M267 1080l7 6M251 1084l8 6M246 1086l7 5M310 1069l8 6M264 1078l9 7M294 1076l6 5M296 1070l6 5M286 1072l7 6M279 1077l6 5M215 1092l8 6M283 1074l8 6M273 1080l8 6M207 1094l6 5M284 1077l8 6M290 1073l7 6M236 1087l6 4M292 1073l9 7M186 1098l7 6M280 1072l9 7" stroke="#fcfcfc" stroke-width="3" fill="none"/>
</g>
<path d="M296.0 1074.0L318.0 1068.0L350.0 1064.0L400.0 1061.5L440.0 1060.5L458.0 1060.0L462.0 1075.0L440.0 1077.5L400.0 1079.5L360.0 1080.5L335.0 1080.0L312.0 1078.0Z" fill="#ffffff" filter="url(#b1.2)"/>
<path d="M452.0 1030.0L456.0 1044.0L470.0 1090.0L480.0 1090.0L480.0 1030.0Z" fill="#000000" filter="url(#b0.8)"/>
<path d="M468 1080L476 1112L493 1188L519 1228L566 1258L640 1264L640 1080Z" fill="#000" filter="url(#b3)"/>
<path d="M915.0 1275.5L1000.0 1267.5L1080.0 1268.5L1192.0 1275.5L1300.0 1272.0L1460.0 1268.0L1460.0 1288.0L1135.0 1287.0L1000.0 1282.5Z" fill="#0a32b4" filter="url(#b1.5)"/>
<path d="M985.0 1273.0L1060.0 1270.0L1135.0 1274.0L1135.0 1279.0L1000.0 1278.0Z" fill="#0a6ee6" filter="url(#b1.5)"/>
<path d="M1150.0 1301.0L1232.0 1150.0L1300.0 1050.0L1400.0 900.0L1480.0 770.0L1837.0 770.0L1837.0 1301.0Z" fill="#00010a" filter="url(#b16)"/>
<path d="M1215.0 1301.0L1235.0 1165.0L1420.0 1115.0L1600.0 1065.0L1700.0 1050.0L1837.0 1060.0L1837.0 1301.0Z" fill="#00053c" filter="url(#b12)"/>
<path d="M1205.0 1224.0C1212.5 1224.8 1234.2 1228.0 1250.0 1229.0C1265.8 1230.0 1283.3 1230.2 1300.0 1230.0C1316.7 1229.8 1333.3 1229.2 1350.0 1228.0C1366.7 1226.8 1383.3 1225.2 1400.0 1223.0C1416.7 1220.8 1433.3 1218.3 1450.0 1215.0C1466.7 1211.7 1482.2 1207.3 1500.0 1203.0C1517.8 1198.7 1540.3 1193.5 1557.0 1189.0C1573.7 1184.5 1588.3 1180.2 1600.0 1176.0C1611.7 1171.8 1616.0 1167.8 1627.0 1164.0C1638.0 1160.2 1653.8 1155.8 1666.0 1153.0C1678.2 1150.2 1694.3 1148.0 1700.0 1147.0" fill="none" stroke="#0a32b8" stroke-width="112" filter="url(#b14)" opacity="0.95"/>
<path d="M1205.0 1224.0C1212.5 1224.8 1234.2 1228.0 1250.0 1229.0C1265.8 1230.0 1283.3 1230.2 1300.0 1230.0C1316.7 1229.8 1333.3 1229.2 1350.0 1228.0C1366.7 1226.8 1383.3 1225.2 1400.0 1223.0C1416.7 1220.8 1433.3 1218.3 1450.0 1215.0C1466.7 1211.7 1482.2 1207.3 1500.0 1203.0C1517.8 1198.7 1540.3 1193.5 1557.0 1189.0C1573.7 1184.5 1588.3 1180.2 1600.0 1176.0C1611.7 1171.8 1616.0 1167.8 1627.0 1164.0C1638.0 1160.2 1653.8 1155.8 1666.0 1153.0C1678.2 1150.2 1694.3 1148.0 1700.0 1147.0" fill="none" stroke="#0a78ee" stroke-width="70" filter="url(#b7)"/>
<path d="M1240.0 1192.0C1250.0 1191.5 1281.7 1190.3 1300.0 1189.0C1318.3 1187.7 1333.3 1186.0 1350.0 1184.0C1366.7 1182.0 1383.3 1180.0 1400.0 1177.0C1416.7 1174.0 1433.3 1170.0 1450.0 1166.0C1466.7 1162.0 1482.2 1157.7 1500.0 1153.0C1517.8 1148.3 1540.3 1142.7 1557.0 1138.0C1573.7 1133.3 1586.2 1129.2 1600.0 1125.0C1613.8 1120.8 1633.3 1115.0 1640.0 1113.0" fill="none" stroke="#0a28a0" stroke-width="40" filter="url(#b12)"/>
<path d="M1222.0 1183.0C1235.0 1182.7 1273.7 1182.7 1300.0 1181.0C1326.3 1179.3 1355.0 1176.3 1380.0 1173.0C1405.0 1169.7 1426.7 1165.5 1450.0 1161.0C1473.3 1156.5 1499.2 1151.2 1520.0 1146.0C1540.8 1140.8 1565.8 1132.7 1575.0 1130.0" fill="none" stroke="#0a64e0" stroke-width="9" filter="url(#b3)"/>
<path d="M1209.0 1255.0L1300.0 1262.0L1500.0 1250.0L1650.0 1200.0L1700.0 1185.0L1700.0 1285.0L1400.0 1290.0L1209.0 1284.0Z" fill="#0a46c8" filter="url(#b5)"/>
<path d="M1106.0 1258.0L1140.0 1252.5L1170.0 1248.5L1240.0 1249.0L1460.0 1243.0L1460.0 1270.0L1300.0 1273.0L1209.0 1272.5L1140.0 1263.5Z" fill="#1484f4" filter="url(#b1.5)"/>
<path d="M1630.0 1140.0L1650.0 1100.0L1700.0 1088.0L1706.0 1140.0Z" fill="#0a50d0" filter="url(#b8)"/>
<path d="M1700.0 1148.0C1705.0 1148.7 1720.0 1153.3 1730.0 1152.0C1740.0 1150.7 1748.3 1144.7 1760.0 1140.0C1771.7 1135.3 1793.3 1126.7 1800.0 1124.0" fill="none" stroke="#0a3cc0" stroke-width="30" filter="url(#b8)"/>
<path d="M1702.0 1143.0C1705.0 1144.2 1714.0 1147.3 1720.0 1150.0C1726.0 1152.7 1735.0 1157.5 1738.0 1159.0" fill="none" stroke="#6ab8ff" stroke-width="13" filter="url(#b4)"/>
<path d="M1770.0 1132.0C1775.0 1130.2 1789.0 1124.3 1800.0 1121.0C1811.0 1117.7 1830.0 1113.5 1836.0 1112.0" fill="none" stroke="#3a96f8" stroke-width="10" filter="url(#b3)"/>
<path d="M1700.0 1175.0L1837.0 1160.0L1837.0 1296.0L1700.0 1296.0Z" fill="#000850" filter="url(#b6)"/>
<path d="M1690.0 1252.0L1837.0 1248.0L1837.0 1296.0L1690.0 1296.0Z" fill="#000c80" filter="url(#b5)"/>
<g filter="url(#b0.6)">
<path d="M1452 1291l8 -2M1442 1292l11 -2" stroke="#000000" stroke-width="3" fill="none"/>
<path d="M1442 1293l15 -3M1436 1292l12 -2" stroke="#000000" stroke-width="5" fill="none"/>
<path d="M1468 1293l10 -3" stroke="#00000c" stroke-width="3" fill="none"/>
<path d="M1451 1291l11 -3" stroke="#00000c" stroke-width="4" fill="none"/>
<path d="M1468 1292l11 -3" stroke="#00000c" stroke-width="5" fill="none"/>
<path d="M1746 1170l4 9M1777 1159l8 10M1827 1097l10 7M1772 1157l7 9" stroke="#000018" stroke-width="2" fill="none"/>
<path d="M1705 1285l1 10M1709 1265l2 11M1693 1275l1 -13M1771 1087l6 8M1722 1182l2 8M1769 1163l6 8M1819 1074l9 7M1722 1081l4 12" stroke="#000018" stroke-width="3" fill="none"/>
<path d="M1675 1294l2 -7M1472 1294l14 -4M1616 1295l9 -10M1661 1291l3 -7M1705 1287l1 7M1704 1283l2 14M1724 1097l2 6M1814 1175l9 7M1722 1089l3 10" stroke="#000018" stroke-width="4" fill="none"/>
<path d="M1470 1291l11 -3M1609 1294l8 -8" stroke="#000018" stroke-width="5" fill="none"/>
<path d="M1725 1257l4 12M1815 1287l7 6M1726 1201l4 13M1743 1066l5 9M1827 1127l9 6M1730 1085l3 8M1788 1067l7 7M1749 1165l4 7M1758 1192l4 7M1760 1086l5 7M1779 1077l8 10M1796 1106l9 9M1778 1163l8 9M1728 1258l3 10M1805 1269l10 9M1717 1241l2 10M1822 1243l7 5M1798 1207l8 7M1812 1079l6 5M1790 1174l7 7M1785 1086l9 10M1773 1090l8 10M1782 1265l5 6M1823 1156l10 8M1771 1109l4 6M1722 1121l3 9M1787 1152l10 10M1765 1203l5 6M1761 1196l5 7M1736 1073l4 10M1751 1097l4 8M1746 1150l6 11M1809 1260l9 8M1766 1231l5 6M1825 1126l10 7M1809 1121l9 7M1718 1090l2 6M1776 1063l8 9M1822 1084l10 8M1776 1169l9 11M1802 1088l10 9M1590 1077l7 -6M1386 1122l16 -2M1289 1120l8 -0M1557 1052l9 -5M1307 1121l15 -1M1591 1079l6 -5M1569 1086l12 -8M1681 1039l2 -7M1599 1068l6 -5M1627 1073l8 -10M1647 1051l6 -11M1520 1090l7 -3M1593 1089l10 -8M1272 1147l9 -0M1464 1093l10 -3M1364 1128l15 -2M1322 1135l7 -1M1698 1064l0 6M1327 1120l15 -1" stroke="#000024" stroke-width="2" fill="none"/>
<path d="M1536 1293l7 -3M1490 1291l9 -3M1543 1293l11 -6M1476 1122l11 -3M1624 1295l9 -11M1505 1293l8 -3M1547 1294l10 -5M1615 1283l6 -7M1273 1158l26 -1M1370 1143l21 -3M1427 1288l35 -7M1390 1138l14 -2M1761 1158l6 9M1771 1109l8 10M1772 1097l4 5M1798 1083l7 7M1803 1154l8 7M1774 1225l4 5M1711 1089l2 12M1737 1252l5 11M1741 1093l4 8M1753 1104l3 6M1824 1066l6 4M1831 1135l6 4M1821 1266l10 8M1825 1257l10 7M1770 1160l8 10M1803 1095l9 9M1777 1160l5 6M1765 1186l5 7M1801 1157l5 5M1810 1131l10 8M1782 1253l7 8M1731 1084l5 13M1794 1172l9 9M1737 1063l4 9M1811 1161l10 9M1730 1179l4 12M1778 1259l9 10M1772 1226l8 11M1815 1153l8 7M1733 1097l3 7M1817 1134l11 8M1788 1081l6 6M1800 1083l7 7M1739 1240l4 8M1739 1209l4 9M1820 1161l6 5M1795 1154l5 5M1747 1107l6 11M1767 1098l8 11M1741 1066l5 10M1749 1272l6 12M1786 1106l5 6M1832 1152l7 5M1719 1180l3 13M1722 1170l2 8M1745 1262l5 10M1723 1088l4 12M1764 1102l6 8M1748 1062l4 8M1736 1104l3 6M1830 1168l10 7M1831 1213l10 7M1816 1087l7 5M1767 1157l8 11M1746 1085l5 9M1780 1206l5 6M1762 1165l6 9M1716 1271l2 8M1809 1079l10 9M1763 1239l6 9M1731 1262l3 8M1536 1092l10 -5M1608 1086l6 -6M1329 1125l15 -1M1453 1114l10 -2M1672 1057l3 -9M1525 1101l11 -5M1519 1105l6 -2M1412 1129l6 -1M1658 1045l4 -8M1507 1046l6 -2M1572 1082l11 -8M1475 1110l12 -3M1665 1052l5 -13M1547 1070l9 -5M1501 1086l9 -3M1404 1094l15 -2M1463 1090l9 -2M1550 1058l13 -7M1332 1128l10 -1M1444 1092l14 -3M1448 1105l12 -3M1473 1073l12 -3" stroke="#000024" stroke-width="3" fill="none"/>
<path d="M1675 1277l3 -11M1705 1273l2 12M1667 1260l3 -9M1470 1290l11 -3M1649 1263l6 -11M1486 1288l14 -4M1709 1265l2 13M1778 1096l6 7M1833 1154l7 5M1736 1192l4 9M1719 1122l3 12M1733 1081l2 6M1763 1286l8 11M1798 1279l6 5M1718 1223l3 12M1718 1128l2 9M1816 1162l5 4M1832 1060l10 7M1771 1109l4 5M1802 1217l10 9M1777 1080l5 6M1722 1217l3 10M1829 1086l6 4M1829 1170l7 5M1722 1110l3 10M1794 1098l6 6M1729 1079l2 6M1721 1114l3 11M1789 1163l7 7M1781 1167l7 8M1730 1171l5 13M1731 1081l3 8M1766 1069l8 10M1779 1170l7 8M1766 1065l6 8M1823 1254l6 5M1761 1249l4 7M1814 1093l5 4M1798 1262l9 8M1722 1246l2 8M1715 1232l3 12M1754 1092l6 9M1822 1086l11 8M1752 1159l7 12M1783 1107l7 8M1829 1162l6 4M1814 1137l8 6" stroke="#000024" stroke-width="4" fill="none"/>
<path d="M1600 1286l6 -6M1676 1284l3 -12M1663 1289l3 -8M1699 1277l1 12M1650 1283l5 -9M1655 1266l5 -11" stroke="#000024" stroke-width="5" fill="none"/>
<path d="M1379 1142l36 -5M1286 1286l29 -2M1287 1156l19 -1M1332 1151l18 -2M1411 1138l26 -5M1162 1279l40 -1M1391 1145l24 -4M1830 1142l7 5M1815 1218l7 5M1717 1254l3 12M1751 1268l3 6M1775 1202l4 5M1811 1196l7 6M1717 1279l3 13M1773 1154l8 11M1745 1168l6 11M1797 1059l6 5M1739 1062l4 9M1713 1117l2 11M1802 1089l10 9M1719 1096l2 7M1745 1223l4 7M1809 1283l6 6M1718 1221l3 13M1763 1155l3 5M1811 1253l8 7M1743 1112l4 8M1734 1252l3 7M1734 1229l3 8M1790 1186l7 7M1830 1099l10 7M1752 1172l4 6M1826 1192l11 8M1785 1287l7 8M1769 1139l4 5M1706 1058l2 12M1729 1099l3 8M1770 1135l8 11M1758 1124l5 8M1787 1292l4 5M1804 1169l5 5M1783 1283l9 10M1792 1098l5 5M1716 1226l3 12M1716 1229l3 13M1795 1274l9 9M1785 1158l7 8M1795 1226l5 5M1795 1149l10 10M1821 1205l7 5M1732 1258l4 10M1715 1240l2 8M1803 1167l7 6M1800 1174l9 9M1715 1248l3 13M1743 1226l5 9M1829 1095l5 4M1777 1204l5 6M1599 1081l7 -6M1350 1149l15 -2M1617 1074l8 -9M1491 1109l9 -3M1259 1152l8 -0M1528 1093l15 -7M1479 1102l14 -4M1472 1092l7 -2M1415 1129l9 -1M1453 1104l11 -2M1573 1068l9 -6M1670 1066l3 -9M1392 1133l9 -1M1642 1069l7 -12M1593 1076l9 -8M1416 1130l14 -2M1596 1067l7 -6M1682 1069l2 -11M1407 1136l10 -2M1261 1145l14 -1M1458 1110l9 -2M1428 1117l6 -1M1464 1121l14 -4M1596 1092l9 -8M1706 1052l2 12M1700 1053l1 14M1407 1118l14 -2M1406 1130l14 -2M1484 1094l10 -3M1543 1100l11 -6M1320 1138l15 -1M1565 1103l10 -7M1658 1058l3 -6" stroke="#000030" stroke-width="2" fill="none"/>
<path d="M1651 1283l7 -13M1678 1269l2 -10M1626 1295l9 -12M1653 1256l3 -7M1671 1249l3 -9M1621 1264l7 -8M1690 1281l1 -11M1156 1222l37 -1M1296 1153l19 -1M1224 1173l35 -1M1826 1273l5 4M1830 1205l8 6M1816 1209l6 5M1790 1228l9 10M1736 1272l4 9M1798 1169l7 7M1832 1210l6 4M1713 1214l1 7M1812 1252l6 5M1784 1087l7 8M1744 1170l6 12M1790 1133l5 5M1777 1244l8 9M1820 1088l7 5M1814 1131l7 6M1790 1163l10 10M1749 1247l4 7M1809 1181l9 8M1765 1192l5 7M1725 1267l3 11M1810 1104l9 8M1766 1259l5 7M1771 1262l4 5M1722 1287l2 6M1809 1097l10 9M1810 1286l9 8M1724 1159l4 11M1739 1163l5 11M1808 1092l6 5M1815 1125l11 9M1708 1266l1 6M1773 1149l5 7M1783 1111l5 6M1784 1111l6 6M1737 1284l3 8M1785 1275l8 9M1788 1087l9 9M1722 1077l3 11M1748 1201l3 6M1788 1286l9 10M1815 1182l9 7M1830 1198l8 6M1729 1188l2 7M1802 1152l7 6M1762 1148l5 8M1766 1151l6 8M1790 1142l6 6M1711 1218l2 10M1710 1054l2 12M1748 1284l7 12M1806 1269l7 6M1749 1168l6 10M1825 1174l9 7M1795 1163l10 10M1825 1145l11 8M1757 1152l7 10M1776 1092l7 8M1755 1093l6 9M1818 1229l5 4M1787 1260l9 9M1727 1077l3 10M1819 1092l7 6M1522 1112l12 -5M1627 1059l4 -5M1362 1145l11 -1M1704 1065l1 12M1483 1107l12 -4M1317 1140l7 -0M1300 1141l11 -1M1456 1118l7 -2M1640 1061l3 -5M1599 1061l12 -11M1335 1136l14 -1M1320 1133l16 -1M1542 1099l9 -4M1331 1128l11 -1M1701 1066l1 14M1618 1048l6 -6M1360 1144l7 -1M1519 1067l14 -6M1498 1107l6 -2M1286 1155l7 -0M1389 1146l11 -2M1374 1136l15 -2M1401 1133l10 -2M1459 1116l10 -2M1438 1124l12 -2M1289 1136l14 -1M1390 1126l16 -2M1469 1106l15 -4M1656 1061l5 -10" stroke="#000030" stroke-width="3" fill="none"/>
<path d="M1700 1221l1 9M1586 1278l10 -7M1614 1286l9 -9M1672 1269l4 -13M1681 1261l2 -11M1784 1245l7 7M1828 1211l11 8M1733 1181l4 9M1717 1182l2 8M1817 1240l10 8M1733 1266l5 13M1782 1285l8 9M1819 1235l8 6M1818 1138l5 4M1706 1256l1 9M1812 1085l8 6M1727 1271l2 6M1823 1070l8 6M1812 1164l5 4M1761 1072l6 8M1809 1121l10 8M1787 1286l5 6M1735 1170l3 7M1719 1113l3 9M1785 1289l8 9M1810 1142l7 6M1813 1130l9 7M1708 1059l1 8M1715 1274l3 11M1779 1285l4 5M1736 1112l3 8M1736 1230l3 8M1803 1155l10 9M1732 1256l5 12M1779 1207l8 9M1777 1155l5 6M1762 1219l7 10M1777 1198l6 8M1831 1098l8 5M1771 1239l5 7M1806 1096l9 8M1780 1205l7 8M1814 1161l5 4M1797 1152l9 9M1749 1102l4 6M1825 1085l11 8M1747 1185l3 6M1713 1201l2 9M1796 1232l5 5M1716 1193l2 9M1734 1111l3 7M1817 1141l10 8M1774 1087l6 8M1811 1166l6 5M1797 1162l5 5M1821 1156l6 4M1771 1241l7 9M1765 1197l5 7" stroke="#000030" stroke-width="4" fill="none"/>
<path d="M1650 1288l4 -7M1689 1241l1 -11M1473 1134l10 -3M1706 1283l1 9M1681 1285l2 -11M1531 1282l9 -4M1603 1269l8 -8M1608 1258l5 -5M1687 1286l2 -14M1675 1282l3 -13M1705 1268l2 14M1595 1294l6 -5" stroke="#000030" stroke-width="5" fill="none"/>
<path d="M1155 1268l33 -1M1165 1273l21 -0M1239 1284l32 -1M1151 1235l39 -1M1187 1185l21 -1M1227 1165l23 -1M1417 1145l21 -4M1395 1140l20 -3M1436 1287l25 -5M1163 1243l20 -0M1292 1157l31 -2M1350 1177l15 -1M1204 1284l39 -1M1207 1177l14 -0M1160 1238l16 -0M1439 1137l23 -5M1385 1143l17 -2M1773 1275l8 10M1818 1226l10 8M1780 1285l6 6M1777 1142l6 8M1801 1075l9 8M1747 1127l6 11M1709 1069l1 7M1727 1115l3 8M1765 1213l6 9M1740 1108l3 7M1795 1250l8 8M1713 1116l3 13M1732 1126l3 9M1821 1129l11 8M1790 1152l7 7M1814 1246l10 8M1782 1144l6 7M1785 1171l9 10M1810 1250l7 6M1779 1213l6 7M1811 1119l5 4M1772 1183l4 5M1724 1217l3 8M1790 1199l6 6M1720 1166l2 9M1793 1210l8 9M1819 1128l9 7M1767 1272l5 7M1737 1177l5 11M1794 1191l5 5M1811 1283l7 6M1745 1103l5 10M1833 1145l6 4M1784 1094l4 5M1735 1076l5 12M1776 1273l5 7M1546 1104l8 -4M1590 1083l11 -9M1591 1091l10 -8M1280 1146l7 -0M1425 1129l15 -3M1605 1084l8 -7M1651 1061l3 -6M1489 1111l7 -2M1668 1068l4 -12M1531 1090l10 -5M1418 1129l15 -3M1513 1116l8 -3M1485 1103l10 -3M1695 1066l0 -8M1563 1072l12 -7M1505 1118l7 -3M1505 1098l8 -3M1568 1082l12 -8M1386 1125l11 -2M1656 1076l6 -13M1591 1078l12 -10M1568 1077l7 -4M1596 1059l7 -6" stroke="#00003c" stroke-width="2" fill="none"/>
<path d="M1583 1291l10 -8M1686 1279l2 -11M1682 1271l3 -13M1524 1268l9 -4M1445 1277l12 -3M1573 1279l7 -5M1576 1242l8 -6M1653 1258l3 -7M1612 1283l8 -8M1601 1277l11 -10M1546 1287l10 -5M1671 1253l3 -10M1624 1277l7 -9M1660 1256l5 -12M1577 1275l8 -6M1603 1268l10 -9M1277 1163l17 -1M1334 1148l36 -4M1210 1174l34 -1M1332 1286l39 -4M1387 1137l30 -4M1381 1144l21 -3M1298 1286l24 -2M1408 1142l22 -4M1165 1196l35 -1M1189 1182l34 -1M1343 1286l14 -1M1363 1143l25 -3M1233 1163l28 -1M1319 1156l17 -1M1166 1270l19 -0M1725 1227l2 6M1829 1278l6 4M1747 1115l5 10M1716 1205l3 12M1822 1188l6 5M1764 1234l6 8M1784 1200l7 8M1714 1205l2 9M1755 1101l4 6M1754 1173l5 9M1768 1185l5 7M1767 1148l6 9M1829 1252l8 6M1752 1096l4 8M1708 1257l2 12M1810 1126l10 8M1807 1261l5 5M1748 1100l3 6M1744 1196l5 11M1706 1218l1 10M1807 1221l7 6M1748 1120l6 11M1805 1154l9 8M1714 1216l3 13M1793 1253l5 5M1784 1244l8 9M1808 1236l7 6M1804 1271l8 7M1810 1194l10 8M1746 1246l5 9M1735 1182l4 10M1775 1147l8 10M1716 1160l3 12M1736 1097l5 11M1785 1173l7 8M1821 1144l9 7M1809 1199l11 9M1785 1143l8 9M1811 1154l5 4M1781 1181l9 10M1744 1284l3 6M1764 1123l6 8M1773 1237l8 10M1541 1098l10 -5M1334 1149l13 -1M1479 1125l9 -3M1293 1156l11 -1M1432 1129l8 -2M1419 1131l7 -1M1420 1120l10 -2M1566 1082l11 -7M1698 1055l1 15M1512 1103l10 -4M1583 1096l12 -9M1696 1080l1 -15M1387 1130l9 -1M1398 1140l11 -2M1647 1068l6 -10M1529 1094l11 -5M1566 1099l7 -4M1309 1135l13 -1M1606 1097l6 -6M1330 1132l16 -1M1636 1066l9 -13M1644 1070l3 -6M1493 1101l14 -5M1471 1112l11 -3M1328 1136l9 -1M1693 1078l1 -15M1255 1153l11 -1M1573 1083l9 -6M1500 1112l13 -5" stroke="#00003c" stroke-width="3" fill="none"/>
<path d="M1694 1222l1 -9M1515 1126l10 -4M1438 1135l12 -2M1702 1232l1 11M1656 1277l4 -8M1700 1283l1 8M1641 1279l6 -9M1677 1259l2 -10M1691 1286l1 -13M1493 1134l7 -2M1572 1285l7 -5M1711 1227l2 9M1642 1281l6 -9M1670 1245l4 -13M1803 1106l5 5M1727 1290l2 7M1813 1239l5 4M1805 1193l9 8M1720 1261l4 13M1827 1231l11 8M1740 1225l3 6M1827 1140l9 6M1737 1113l4 9M1762 1101l4 7M1718 1084l3 13M1828 1218l7 5M1710 1080l2 13M1743 1251l5 11M1769 1198l4 5M1731 1244l4 10M1822 1218l5 4M1744 1281l6 12M1748 1219l4 7M1798 1248l4 4M1790 1253l5 5M1717 1224l3 12M1709 1222l2 14M1750 1264l5 9M1723 1181l4 12M1767 1161l8 11M1757 1165l4 6M1781 1167l5 6M1783 1217l7 8M1757 1141l6 9M1726 1224l4 12M1729 1177l5 13M1715 1210l1 6M1730 1273l3 7M1800 1114l9 8M1817 1276l10 8M1775 1267l8 9M1720 1260l3 11M1800 1208l6 6M1790 1204l6 6M1707 1242l2 13M1813 1256l8 7M1754 1066l7 11M1714 1218l1 7M1808 1192l10 8M1719 1106l2 7M1725 1086l2 7" stroke="#00003c" stroke-width="4" fill="none"/>
<path d="M1538 1284l8 -4M1680 1274l3 -11M1673 1273l2 -7M1453 1135l11 -3M1451 1123l11 -2M1458 1126l9 -2M1462 1136l8 -2M1460 1137l11 -3" stroke="#00003c" stroke-width="5" fill="none"/>
<path d="M1353 1144l15 -2M1379 1144l16 -2M1264 1164l26 -1M1262 1169l21 -1M1206 1178l36 -1M1302 1156l21 -1M1167 1203l25 -1M1446 1286l14 -3M1228 1284l20 -1M1161 1240l27 -1M1361 1284l38 -5M1436 1142l36 -8M1400 1150l25 -4M1266 1162l27 -1M1278 1284l31 -2M1308 1154l15 -1M1419 1142l34 -7M1164 1211l30 -1M1244 1168l23 -1M1738 1271l4 9M1716 1220l1 6M1735 1194l5 11M1821 1190l6 5M1788 1106l6 6M1710 1210l1 7M1724 1196l2 8M1731 1128l2 6M1765 1221l8 11M1752 1115l5 9M1825 1159l8 6M1725 1176l4 12M1799 1186l6 5M1707 1244l1 10M1780 1181l5 6M1773 1198l5 6M1774 1213l8 10M1714 1186l1 6M1825 1181l7 5M1767 1260l8 10M1765 1093l7 10M1715 1252l3 13M1775 1165l5 7M1749 1191l6 10M1740 1210l6 12M1778 1080l8 9M1748 1159l4 8M1720 1102l2 7M1736 1211l5 11M1742 1273l6 12M1819 1184l8 6M1725 1085l3 10M1754 1281l4 7M1833 1225l6 4M1751 1196l6 10M1822 1289l6 4M1787 1280l8 9M1806 1276l7 7M1725 1219l2 8M1755 1200l4 6M1738 1259l4 8M1802 1266l6 5M1828 1177l11 8M1800 1191l5 5M1778 1239l7 9M1591 1097l9 -8M1473 1123l9 -3M1407 1143l15 -2M1339 1153l10 -1M1567 1110l8 -5M1381 1133l13 -2M1273 1170l9 -0M1688 1078l1 -10M1357 1151l14 -2M1574 1103l11 -7M1546 1107l10 -5M1684 1082l2 -10M1554 1116l11 -6M1556 1092l11 -6M1522 1092l6 -3M1274 1156l12 -1M1465 1128l7 -2M1664 1078l4 -10M1678 1079l2 -8M1556 1107l6 -4M1475 1103l7 -2M1407 1137l16 -3" stroke="#000048" stroke-width="2" fill="none"/>
<path d="M1495 1286l10 -3M1685 1253l2 -9M1630 1284l8 -11M1456 1135l7 -2M1511 1130l7 -3M1683 1285l2 -10M1620 1269l8 -9M1439 1139l11 -2M1701 1208l1 9M1542 1126l10 -5M1689 1254l1 -10M1461 1125l10 -2M1706 1250l1 10M1438 1164l9 -2M1655 1257l4 -7M1515 1290l13 -5M1485 1283l9 -3M1601 1266l6 -6M1481 1127l14 -4M1677 1262l2 -7M1392 1284l20 -3M1272 1175l16 -1M1313 1152l30 -2M1330 1286l23 -2M1255 1169l37 -2M1415 1151l15 -3M1344 1149l38 -4M1405 1135l37 -6M1369 1142l16 -2M1380 1149l33 -5M1275 1158l20 -1M1164 1212l19 -0M1309 1153l30 -2M1156 1249l33 -1M1164 1270l24 -1M1375 1149l29 -4M1345 1145l37 -4M1321 1154l24 -2M1248 1170l21 -1M1403 1285l19 -3M1428 1289l39 -8M1401 1136l32 -5M1252 1164l29 -1M1351 1149l27 -3M1345 1146l26 -3M1796 1191l10 9M1785 1193l7 8M1793 1206l5 5M1782 1263l8 9M1825 1261l6 5M1732 1191l3 9M1791 1179l5 5M1767 1235l8 10M1758 1217l5 7M1742 1262l3 7M1750 1183l5 9M1729 1162l2 6M1810 1281l7 6M1814 1126l6 5M1796 1111l6 6M1777 1204l5 6M1823 1209l6 5M1811 1141l11 9M1762 1159l5 8M1819 1254l10 8M1736 1165l3 6M1738 1177l4 10M1802 1135l7 7M1808 1105l7 6M1769 1194l8 10M1751 1221l6 10M1800 1257l5 5M1806 1234l8 7M1725 1212l3 10M1756 1197l5 8M1742 1280l3 7M1822 1157l8 6M1711 1069l1 8M1754 1131l5 8M1817 1245l8 6M1722 1130l3 12M1773 1133l9 11M1760 1199l4 5M1734 1236l3 7M1762 1180l7 10M1758 1110l7 11M1751 1198l4 6M1799 1271l5 4M1746 1219l4 8M1747 1088l6 11M1801 1139l10 9M1812 1269l9 8M1729 1263l5 13M1534 1120l6 -3M1576 1097l11 -8M1630 1080l5 -6M1553 1124l10 -6M1343 1145l7 -1M1515 1119l6 -2M1346 1152l8 -1M1415 1142l12 -2M1504 1119l8 -3M1606 1068l5 -5M1407 1129l6 -1M1574 1102l7 -5M1659 1079l4 -8M1268 1160l11 -1M1395 1147l12 -2M1696 1070l0 -7" stroke="#000048" stroke-width="3" fill="none"/>
<path d="M1706 1231l1 8M1701 1255l1 12M1557 1263l9 -5M1450 1144l12 -3M1536 1129l6 -3M1462 1125l13 -3M1658 1265l5 -11M1466 1126l13 -3M1517 1130l13 -5M1704 1263l1 13M1530 1127l8 -3M1521 1130l8 -3M1681 1283l2 -7M1574 1288l8 -5M1597 1288l10 -8M1460 1132l13 -3M1661 1293l5 -13M1460 1129l9 -2M1632 1280l9 -12M1603 1283l11 -10M1447 1139l7 -2M1710 1229l2 10M1519 1268l13 -5M1545 1133l13 -6M1478 1140l9 -3M1833 1278l7 5M1794 1146l4 4M1761 1109l7 10M1812 1269l7 6M1794 1205l5 5M1783 1081l4 5M1789 1190l7 8M1751 1211l6 10M1719 1252l3 11M1830 1186l6 4M1768 1157l6 8M1801 1191l5 5M1797 1145l10 10M1761 1233l6 9M1730 1187l2 6M1760 1219l4 6M1779 1200l4 5M1761 1103l8 11M1792 1205l6 6M1801 1238l7 7M1731 1164l5 13M1773 1248l5 7M1715 1255l2 8M1797 1185l8 8M1818 1260l6 5M1771 1283l6 8M1798 1276l6 6M1730 1279l3 8M1797 1145l8 7M1830 1146l8 6M1715 1155l1 6M1826 1275l9 7M1769 1189l8 11M1750 1227l6 11M1828 1124l6 4M1790 1225l8 8M1725 1185l3 8M1739 1207l3 7M1748 1148l4 7" stroke="#000048" stroke-width="4" fill="none"/>
<path d="M1679 1281l2 -9M1489 1128l8 -2M1634 1262l4 -6M1653 1278l5 -10M1486 1126l11 -3M1709 1238l2 11M1676 1279l4 -14M1446 1148l7 -2M1686 1263l2 -15M1616 1248l9 -9M1625 1292l7 -9M1606 1254l7 -7M1665 1256l3 -8M1659 1254l6 -13M1479 1139l13 -4M1632 1271l5 -7M1465 1133l13 -3M1490 1122l8 -3M1696 1244l1 -12M1696 1269l0 -10M1616 1261l5 -5M1613 1267l9 -10M1661 1284l4 -9M1605 1274l5 -5M1655 1236l5 -10M1682 1235l2 -11M1465 1131l14 -4M1523 1128l10 -4" stroke="#000048" stroke-width="5" fill="none"/>
<path d="M1432 1146l36 -8M1422 1146l25 -5M1201 1177l36 -1M1410 1282l27 -5M1281 1171l34 -2M1228 1171l23 -1M1161 1214l32 -1M1280 1161l19 -1M1433 1134l28 -6M1426 1138l39 -8M1214 1177l28 -1M1436 1137l20 -4M1386 1154l18 -3M1288 1284l19 -1M1380 1148l26 -4M1383 1147l31 -4M1423 1154l39 -8M1325 1157l23 -2M1288 1170l18 -1M1169 1236l30 -1M1403 1156l22 -4M1354 1165l23 -3M1226 1169l15 -1M1402 1145l16 -2M1754 1192l7 12M1794 1209l4 4M1812 1213l9 8M1822 1177l8 6M1769 1140l4 6M1777 1239l7 9M1754 1229l5 8M1762 1202l5 8M1787 1152l7 8M1825 1211l5 4M1727 1241l3 10M1798 1266l9 9M1706 1212l1 7M1715 1244l2 10M1740 1134l5 11M1767 1142l5 7M1814 1103l11 9M1803 1197l8 8M1736 1142l5 12M1826 1268l5 4M1818 1235l7 6M1722 1264l4 13M1736 1103l3 7M1789 1272l7 8M1786 1251l7 8M1813 1152l6 5M1787 1284l9 9M1727 1221l4 12M1725 1263l3 10M1597 1101l10 -9M1488 1130l10 -3M1643 1086l4 -7M1511 1138l9 -3M1648 1089l4 -6M1285 1177l8 -0M1340 1139l15 -1M1679 1070l2 -8M1455 1127l8 -2M1297 1159l8 -1M1448 1121l13 -3M1503 1101l13 -5M1421 1149l14 -3M1550 1114l12 -7M1372 1164l14 -2" stroke="#000054" stroke-width="2" fill="none"/>
<path d="M1564 1237l10 -6M1562 1124l12 -7M1679 1260l3 -13M1549 1278l10 -5M1643 1269l6 -10M1448 1287l7 -2M1708 1272l1 8M1669 1244l5 -14M1633 1268l7 -10M1659 1260l3 -6M1589 1279l7 -5M1710 1185l3 15M1651 1264l6 -11M1519 1285l12 -5M1691 1246l1 -11M1608 1275l7 -7M1531 1273l13 -6M1577 1283l8 -6M1641 1250l7 -11M1694 1247l1 -11M1255 1172l32 -2M1344 1151l26 -3M1426 1154l18 -4M1242 1170l24 -1M1181 1278l19 -1M1392 1284l14 -2M1173 1240l20 -1M1193 1185l19 -1M1324 1165l17 -1M1241 1167l36 -2M1329 1286l37 -3M1214 1284l22 -1M1383 1151l24 -3M1711 1195l2 12M1774 1188l8 10M1758 1179l5 7M1827 1193l7 5M1811 1096l8 7M1819 1215l6 5M1782 1232l7 7M1722 1155l2 8M1805 1109l7 6M1755 1113l6 10M1767 1238l5 7M1713 1207l2 9M1751 1214l5 10M1813 1269l5 4M1763 1187l7 11M1811 1265l11 9M1819 1244l6 5M1719 1197l2 6M1733 1285l3 8M1708 1239l1 9M1757 1265l4 6M1780 1268l4 5M1748 1204l6 10M1722 1160l3 11M1812 1104l8 7M1830 1114l7 5M1829 1257l11 8M1797 1196l10 10M1528 1137l11 -5M1295 1168l10 -1M1533 1119l8 -4M1413 1126l10 -2M1263 1165l14 -1M1687 1072l2 -11M1538 1125l8 -4M1482 1100l9 -3M1306 1147l14 -1M1433 1144l8 -2M1606 1098l7 -7M1305 1163l14 -1M1276 1168l9 -0M1696 1081l0 -6" stroke="#000054" stroke-width="3" fill="none"/>
<path d="M1508 1288l12 -5M1543 1135l10 -5M1613 1287l9 -9M1481 1127l9 -3M1472 1125l12 -3M1624 1268l8 -9M1603 1260l7 -6M1527 1242l13 -6M1620 1266l6 -7M1670 1262l5 -14M1608 1292l7 -7M1534 1290l9 -4M1533 1273l11 -5M1506 1284l13 -5M1533 1280l8 -4M1443 1125l10 -2M1479 1141l14 -4M1481 1285l11 -3M1598 1249l7 -6M1771 1266l6 7M1744 1151l5 11M1796 1286l10 9M1832 1274l9 6M1713 1227l2 12M1755 1230l4 7M1799 1212l6 6M1828 1271l9 6M1740 1190l5 11M1742 1192l4 8M1773 1191l6 8M1751 1207l4 7M1826 1249l9 6M1743 1259l3 6M1816 1236l7 5M1797 1179l5 5M1763 1273l5 7M1782 1132l5 6M1828 1199l5 4M1769 1089l6 8M1763 1246l5 7M1793 1277l8 8" stroke="#000054" stroke-width="4" fill="none"/>
<path d="M1586 1253l9 -7M1659 1275l5 -13M1638 1271l6 -10M1618 1228l7 -8M1588 1247l8 -6M1594 1292l8 -7M1452 1141l11 -3M1613 1257l8 -9M1689 1247l1 -8M1630 1248l6 -8M1651 1264l4 -7M1688 1252l1 -9M1616 1254l5 -6M1606 1268l7 -6M1575 1290l7 -5M1705 1258l1 11M1588 1268l7 -5M1487 1130l13 -4M1454 1159l8 -2M1487 1130l10 -3" stroke="#000054" stroke-width="5" fill="none"/>
<path d="M1349 1152l30 -3M1258 1158l15 -1M1523 1104l7 -3" stroke="#000c54" stroke-width="2" fill="none"/>
<path d="M1557 1288l7 -4M1405 1286l24 -4M1741 1274l3 6M1596 1090l9 -8" stroke="#000c54" stroke-width="3" fill="none"/>
<path d="M1522 1278l10 -4M1800 1263l8 7M1811 1108l8 7M1744 1261l6 12" stroke="#000c54" stroke-width="4" fill="none"/>
<path d="M1675 1246l3 -11M1619 1286l10 -11" stroke="#000c54" stroke-width="5" fill="none"/>
<path d="M1450 1151l18 -4M1284 1170l26 -2M1214 1281l35 -1M1165 1269l30 -1M1280 1166l33 -2M1339 1279l32 -3M1336 1173l33 -3M1373 1161l32 -4M1337 1161l19 -2M1402 1146l15 -2M1201 1187l18 -1M1170 1274l33 -1M1371 1148l24 -3M1303 1177l18 -1M1317 1151l26 -2M1418 1139l30 -6M1404 1146l18 -3M1428 1134l30 -6M1385 1153l20 -3M1354 1146l39 -4M1227 1178l20 -1M1401 1147l29 -5M1335 1150l30 -3M1341 1166l34 -4M1336 1283l40 -4M1285 1171l31 -2M1159 1234l31 -1M1278 1166l32 -2M1389 1164l19 -3M1165 1254l37 -1M1439 1153l37 -9M1414 1148l21 -4M1167 1214l32 -1M1419 1149l29 -5M1176 1202l26 -1M1414 1162l23 -4M1441 1149l19 -4M1419 1146l39 -8M1325 1279l34 -3M1155 1254l40 -1M1415 1163l38 -7M1804 1243l6 5M1752 1262l6 11M1774 1193l4 5M1796 1233l6 6M1718 1154l3 13M1822 1249l8 6M1760 1277l5 8M1798 1114l6 6M1826 1204l8 6M1832 1171l9 6M1759 1164l6 10M1778 1179l7 8M1722 1187l3 10M1808 1117l10 9M1733 1139l4 10M1724 1226l3 9M1787 1280l9 10M1761 1281l5 7M1831 1197l6 4M1332 1150l16 -1M1520 1121l11 -4M1587 1100l10 -8M1555 1130l8 -4M1448 1130l10 -2M1276 1162l16 -1M1626 1087l7 -9M1479 1124l14 -4M1369 1153l6 -1M1565 1111l9 -5M1294 1178l12 -1M1426 1163l14 -3M1331 1155l9 -1M1436 1132l6 -1M1690 1088l2 -14M1599 1101l9 -8M1574 1124l9 -6M1450 1149l8 -2M1623 1096l4 -5M1620 1128l9 -10M1370 1150l13 -2M1354 1149l14 -1M1294 1162l13 -1" stroke="#000c60" stroke-width="2" fill="none"/>
<path d="M1615 1273l10 -10M1660 1236l5 -11M1564 1284l6 -4M1548 1226l13 -7M1517 1280l13 -5M1567 1293l11 -7M1619 1254l6 -7M1622 1259l9 -11M1496 1141l12 -4M1670 1264l3 -8M1468 1144l8 -2M1496 1124l12 -4M1441 1148l14 -3M1457 1136l7 -2M1645 1256l6 -10M1552 1132l13 -7M1703 1236l1 8M1558 1288l6 -4M1661 1226l3 -7M1690 1276l1 -9M1532 1265l12 -5M1612 1220l5 -5M1496 1147l7 -2M1690 1217l1 -7M1508 1161l10 -4M1477 1281l8 -2M1679 1235l2 -7M1466 1132l12 -3M1487 1154l10 -3M1451 1140l14 -3M1684 1206l2 -13M1602 1262l5 -5M1635 1271l4 -6M1661 1283l5 -11M1661 1265l5 -11M1699 1226l1 14M1654 1259l4 -8M1654 1217l6 -13M1513 1136l9 -3M1707 1253l2 11M1665 1241l3 -8M1440 1287l27 -6M1429 1286l36 -8M1324 1154l28 -2M1181 1275l28 -1M1292 1188l40 -3M1393 1148l32 -5M1175 1199l36 -1M1413 1148l20 -3M1161 1267l38 -1M1173 1238l24 -1M1232 1278l16 -1M1204 1281l35 -1M1416 1135l27 -5M1230 1174l16 -1M1318 1173l24 -2M1378 1282l18 -2M1360 1163l36 -4M1312 1163l21 -2M1441 1136l26 -6M1365 1150l33 -4M1256 1164l29 -1M1372 1178l27 -3M1420 1145l19 -3M1162 1267l24 -1M1376 1157l31 -4M1287 1169l32 -2M1397 1283l16 -2M1262 1283l29 -2M1159 1215l40 -1M1182 1185l20 -1M1260 1168l36 -2M1314 1171l15 -1M1403 1288l35 -6M1248 1184l19 -1M1388 1159l20 -3M1289 1281l31 -2M1407 1156l27 -5M1774 1246l4 5M1709 1098l1 7M1799 1139l6 6M1803 1236l9 8M1724 1277l3 9M1748 1210l3 6M1753 1134l7 12M1731 1221l2 7M1760 1192l4 6M1765 1201l6 9M1796 1181l9 9M1739 1161l4 9M1722 1261l3 11M1719 1263l3 13M1768 1178l5 7M1769 1283l6 7M1750 1191l3 6M1788 1219l5 5M1423 1163l8 -1M1404 1148l8 -1M1461 1146l12 -3M1431 1150l7 -1M1651 1070l6 -12M1279 1165l11 -1M1637 1088l6 -9M1614 1105l4 -5M1399 1155l11 -2M1504 1111l6 -2M1530 1123l14 -6M1382 1163l8 -1M1408 1143l15 -2M1620 1093l6 -7M1635 1100l9 -13M1371 1169l7 -1M1523 1125l7 -3M1439 1126l13 -3M1305 1174l15 -1M1264 1164l6 -0" stroke="#000c60" stroke-width="3" fill="none"/>
<path d="M1651 1257l4 -8M1511 1126l12 -5M1697 1225l0 11M1470 1138l14 -4M1460 1152l8 -2M1546 1125l7 -4M1606 1230l10 -9M1540 1237l10 -5M1691 1252l2 -15M1533 1136l12 -6M1490 1134l8 -2M1676 1261l3 -14M1516 1126l7 -3M1465 1288l14 -4M1520 1288l9 -4M1554 1129l11 -6M1515 1150l8 -3M1539 1256l9 -4M1473 1144l10 -3M1675 1234l2 -8M1473 1143l9 -2M1561 1285l13 -8M1522 1281l7 -3M1697 1278l0 -9M1620 1249l9 -10M1649 1252l7 -12M1543 1273l13 -7M1654 1281l5 -9M1465 1143l8 -2M1584 1268l6 -5M1538 1259l10 -5M1665 1257l4 -11M1640 1270l7 -11M1476 1135l8 -2M1686 1256l1 -7M1553 1283l8 -4M1682 1255l2 -10M1512 1152l9 -3M1572 1252l12 -8M1576 1252l11 -8M1573 1257l8 -5M1638 1248l4 -6M1708 1228l2 14M1508 1144l9 -3M1582 1125l7 -5M1739 1141l4 8M1801 1180l7 7M1789 1270l6 6M1831 1273l6 4M1761 1210l5 8M1744 1260l3 7M1742 1272l5 10M1802 1128l5 4M1751 1224l7 12M1707 1080l1 9M1714 1217l3 12M1826 1254l10 7M1728 1139l3 9M1776 1259l6 8M1727 1221l3 8M1740 1226l4 8M1743 1154l6 12M1812 1262l6 5M1787 1115l6 6M1751 1246l4 6M1765 1223l7 10M1783 1184l8 9M1710 1266l1 6M1790 1285l8 8M1773 1139l5 6M1802 1223l7 7M1726 1119l3 9M1739 1257l5 10M1709 1250l2 13M1817 1207l10 8M1830 1269l7 5M1753 1256l6 11M1710 1203l2 12M1803 1140l6 5" stroke="#000c60" stroke-width="4" fill="none"/>
<path d="M1605 1250l9 -8M1710 1235l2 10M1699 1200l0 9M1569 1287l7 -5M1476 1136l12 -3M1436 1152l13 -3M1638 1246l5 -7M1624 1135l7 -8M1511 1122l9 -4M1471 1135l11 -3M1680 1179l3 -12M1683 1227l3 -14M1701 1204l1 10M1607 1216l10 -10M1594 1130l8 -7M1460 1143l13 -3M1571 1286l11 -7M1663 1226l3 -7M1679 1195l2 -7M1660 1285l3 -7M1621 1274l8 -9M1670 1246l3 -9" stroke="#000c60" stroke-width="5" fill="none"/>
<path d="M1298 1281l38 -3M1273 1175l30 -2M1172 1203l24 -1M1266 1284l40 -2M1348 1280l37 -4M1188 1197l23 -1M1186 1198l25 -1M1334 1159l15 -1M1166 1254l40 -1M1293 1159l35 -2M1321 1283l29 -2M1407 1146l25 -4M1181 1237l15 -0M1331 1282l37 -4M1307 1283l18 -1M1360 1165l37 -4M1282 1163l23 -1M1184 1207l37 -1M1406 1284l39 -7M1360 1157l25 -3M1254 1174l16 -1M1333 1282l33 -3M1350 1161l37 -4M1387 1158l39 -6M1780 1289l8 9M1779 1220l7 8M1735 1191l5 12M1709 1214l2 13M1713 1235l1 6M1775 1243l7 8M1828 1086l9 6M1769 1274l8 11M1795 1282l8 7M1761 1203l7 11M1813 1213l5 4M1749 1172l3 6M1828 1203l7 5M1732 1186l5 13M1812 1138l6 5M1723 1179l2 7M1257 1177l16 -1M1573 1120l12 -8M1431 1156l11 -2M1320 1168l15 -1M1452 1126l12 -3M1575 1135l9 -6M1433 1158l7 -1M1305 1168l16 -1M1553 1132l13 -7M1330 1157l10 -1M1709 1093l1 9" stroke="#000c6c" stroke-width="2" fill="none"/>
<path d="M1610 1270l7 -7M1465 1127l11 -3M1692 1279l1 -7M1452 1159l11 -3M1447 1184l14 -3M1476 1146l11 -3M1676 1221l2 -9M1652 1230l5 -9M1550 1136l7 -4M1671 1213l2 -8M1476 1280l7 -2M1506 1139l8 -3M1644 1263l8 -13M1657 1233l4 -10M1571 1144l12 -8M1516 1132l7 -3M1588 1146l9 -7M1593 1257l11 -10M1634 1227l6 -8M1511 1277l11 -4M1596 1261l9 -8M1677 1235l3 -13M1274 1280l23 -1M1179 1251l26 -1M1363 1149l33 -4M1324 1153l35 -3M1175 1267l26 -1M1372 1160l18 -2M1167 1274l15 -0M1264 1180l39 -2M1351 1279l14 -1M1433 1151l24 -5M1180 1257l15 -0M1317 1161l19 -2M1420 1165l32 -6M1382 1156l25 -3M1275 1280l39 -2M1177 1201l28 -1M1342 1174l32 -3M1198 1280l20 -1M1363 1169l17 -2M1264 1169l35 -2M1173 1201l21 -1M1170 1207l33 -1M1281 1280l19 -1M1183 1258l17 -0M1388 1163l19 -3M1183 1258l34 -1M1227 1188l22 -1M1441 1158l37 -9M1191 1196l36 -1M1441 1172l32 -7M1764 1190l4 6M1756 1169l6 9M1798 1258l7 7M1758 1272l4 6M1715 1156l3 13M1740 1192l3 7M1763 1187l7 11M1708 1199l2 12M1740 1195l4 9M1735 1208l3 8M1773 1165l4 5M1792 1193l9 9M1800 1233l6 5M1747 1156l3 6M1738 1179l3 7M1767 1135l4 6M1730 1174l5 13M1753 1142l6 10M1717 1135l3 11M1740 1135l4 8M1443 1151l15 -3M1350 1155l6 -1M1265 1184l14 -1M1491 1126l10 -3M1652 1093l5 -10M1461 1144l10 -2M1464 1148l15 -4M1618 1082l6 -7M1453 1145l9 -2M1584 1100l12 -9M1577 1117l7 -5" stroke="#000c6c" stroke-width="3" fill="none"/>
<path d="M1660 1264l5 -13M1550 1269l10 -5M1596 1289l9 -8M1519 1268l9 -4M1464 1139l8 -2M1533 1129l7 -3M1646 1218l5 -9M1597 1262l10 -8M1587 1223l11 -9M1648 1231l4 -6M1474 1256l10 -3M1661 1238l4 -8M1688 1198l1 -8M1545 1292l12 -6M1479 1134l12 -4M1686 1223l2 -11M1491 1144l13 -4M1500 1275l13 -4M1545 1270l13 -7M1594 1273l10 -9M1568 1278l9 -5M1665 1242l5 -13M1520 1161l8 -3M1709 1193l1 9M1545 1130l9 -4M1611 1140l10 -10M1704 1196l2 15M1527 1284l7 -3M1572 1259l11 -7M1749 1130l6 11M1825 1224l6 4M1790 1272l6 7M1812 1131l5 5M1784 1234l5 6M1748 1184l5 10M1749 1220l6 12M1761 1136l5 7M1816 1205l6 5M1768 1129l7 10M1754 1269l7 11M1736 1255l2 6M1808 1233l6 6M1763 1250l4 5M1763 1139l8 11M1794 1176l9 9M1798 1245l5 5M1763 1138l5 7" stroke="#000c6c" stroke-width="4" fill="none"/>
<path d="M1689 1221l1 -9M1616 1238l7 -8M1506 1288l10 -4M1628 1275l6 -8M1679 1238l2 -9M1535 1235l9 -4M1604 1287l8 -7M1480 1146l11 -3M1590 1255l8 -6M1601 1247l10 -9M1628 1276l7 -9M1605 1124l8 -7M1688 1225l2 -12M1627 1265l6 -7M1680 1236l3 -14M1611 1255l5 -5M1528 1135l10 -5M1569 1253l8 -5M1573 1287l8 -5M1459 1152l14 -3M1568 1125l7 -4M1462 1150l14 -3M1498 1176l7 -2M1669 1276l4 -12M1490 1286l13 -4M1440 1151l10 -2M1507 1139l7 -3M1649 1226l4 -8M1518 1127l11 -5M1664 1268l4 -9M1679 1225l2 -7M1516 1130l8 -3M1495 1145l14 -5M1635 1212l6 -9M1590 1238l11 -9M1704 1160l1 8" stroke="#000c6c" stroke-width="5" fill="none"/>
<path d="M1174 1258l16 -0M1329 1165l24 -2M1366 1170l34 -4M1206 1192l15 -0M1314 1161l18 -1M1235 1186l22 -1M1394 1175l24 -4M1374 1161l38 -5M1166 1221l20 -0M1400 1162l21 -3M1437 1161l20 -4M1213 1175l38 -1M1421 1281l31 -6M1166 1260l27 -1M1395 1170l30 -5M1335 1166l15 -1M1326 1161l26 -2M1387 1160l19 -3M1195 1182l16 -0M1393 1286l30 -5M1820 1195l7 5M1815 1113l7 6M1734 1187l4 9M1713 1132l2 8M1808 1109l10 9M1795 1126l5 5M1727 1283l4 13M1758 1255l3 5M1807 1233l9 8M1756 1186l4 6M1764 1119l8 11M1792 1116l5 5M1576 1117l7 -5M1414 1167l12 -2M1558 1145l12 -7M1372 1155l12 -1M1298 1176l8 -1M1616 1117l10 -11M1310 1169l15 -1M1368 1161l8 -1" stroke="#000c78" stroke-width="2" fill="none"/>
<path d="M1453 1144l11 -3M1464 1262l13 -3M1683 1174l2 -12M1537 1287l9 -4M1580 1128l8 -5M1545 1265l8 -4M1564 1243l10 -6M1653 1223l6 -12M1632 1224l7 -9M1447 1177l7 -2M1542 1265l9 -5M1533 1150l7 -3M1588 1248l6 -4M1479 1161l8 -2M1568 1247l9 -6M1658 1246l4 -8M1599 1256l9 -8M1603 1252l6 -6M1473 1130l14 -4M1543 1288l6 -3M1667 1235l4 -12M1693 1236l1 -12M1480 1133l9 -3M1554 1276l7 -4M1448 1142l14 -3M1551 1125l11 -6M1507 1126l14 -5M1549 1259l9 -5M1548 1145l10 -5M1528 1140l9 -4M1624 1253l5 -6M1442 1148l13 -3M1456 1154l11 -3M1668 1215l4 -11M1630 1239l6 -8M1704 1267l1 9M1540 1271l12 -6M1551 1249l8 -4M1480 1151l8 -2M1562 1238l10 -6M1518 1279l11 -4M1240 1170l20 -1M1170 1276l39 -1M1401 1154l34 -6M1235 1189l38 -2M1400 1280l16 -3M1420 1281l25 -5M1389 1175l25 -4M1331 1167l27 -2M1276 1173l33 -2M1391 1173l32 -5M1296 1171l34 -2M1294 1171l28 -2M1358 1185l20 -2M1176 1247l27 -1M1268 1283l18 -1M1353 1283l33 -4M1359 1282l15 -2M1361 1164l30 -4M1336 1163l29 -3M1171 1248l31 -1M1270 1167l31 -2M1181 1201l21 -1M1259 1181l31 -2M1180 1206l19 -1M1284 1180l29 -2M1185 1199l16 -0M1169 1208l35 -1M1267 1186l38 -2M1798 1263l7 7M1744 1126l3 7M1804 1207l8 7M1812 1099l8 7M1779 1198l7 9M1746 1206l3 7M1734 1226l3 7M1776 1134l6 7M1743 1147l4 8M1735 1137l4 9M1765 1146l4 6M1734 1130l4 9M1786 1216l4 5M1801 1119l4 4M1741 1127l3 7M1754 1126l5 9M1721 1194l3 9M1790 1125l8 8M1786 1204l7 8M1649 1097l5 -10M1523 1145l15 -6M1593 1134l7 -6M1505 1148l8 -3M1404 1154l12 -2M1450 1164l16 -4M1346 1167l6 -1M1337 1162l7 -1M1496 1131l6 -2M1492 1137l7 -2M1317 1175l13 -1M1438 1149l11 -2M1561 1145l12 -7M1432 1159l10 -2M1656 1087l4 -9M1514 1117l13 -5M1437 1162l13 -3M1520 1136l7 -3M1557 1133l11 -6M1322 1164l15 -1" stroke="#000c78" stroke-width="3" fill="none"/>
<path d="M1558 1265l12 -7M1507 1131l10 -4M1575 1284l7 -5M1515 1130l11 -5M1486 1148l9 -3M1681 1215l2 -9M1492 1151l12 -4M1514 1274l14 -5M1595 1209l6 -5M1626 1246l7 -9M1506 1161l12 -4M1669 1232l3 -7M1637 1276l7 -10M1574 1282l7 -5M1700 1208l1 14M1513 1141l12 -4M1570 1262l6 -4M1593 1126l10 -8M1676 1241l3 -10M1436 1161l14 -3M1670 1191l4 -12M1478 1149l9 -3M1644 1238l7 -11M1610 1259l7 -7M1538 1280l8 -4M1652 1244l5 -10M1505 1151l14 -5M1648 1225l7 -12M1539 1270l8 -4M1574 1280l6 -4M1680 1261l2 -9M1632 1211l7 -10M1551 1134l7 -4M1632 1194l6 -8M1510 1132l10 -4M1821 1105l5 4M1784 1282l7 8M1749 1238l6 11M1746 1133l5 10M1709 1205l1 6M1776 1264l5 6M1801 1243l9 8M1736 1145l5 12M1712 1176l2 11" stroke="#000c78" stroke-width="4" fill="none"/>
<path d="M1603 1263l10 -10M1638 1252l6 -9M1710 1161l2 9M1478 1158l12 -3M1481 1259l8 -2M1597 1243l8 -6M1563 1289l12 -7M1442 1260l14 -3M1701 1182l1 12M1642 1246l7 -11M1633 1253l5 -7M1626 1273l5 -6M1520 1247l7 -3M1574 1284l8 -5M1607 1264l8 -8M1502 1151l13 -4M1643 1268l5 -8M1452 1159l12 -3M1530 1138l8 -3M1488 1138l7 -2M1530 1131l7 -3M1589 1280l7 -6M1439 1154l7 -2M1529 1290l10 -5M1587 1286l11 -9M1674 1258l2 -9M1608 1277l7 -6M1549 1267l9 -5M1594 1257l8 -6M1680 1247l3 -13M1588 1281l7 -6M1493 1153l13 -4M1518 1158l9 -4M1605 1283l11 -10M1664 1255l3 -9" stroke="#000c78" stroke-width="5" fill="none"/>
<path d="M1186 1197l21 -1M1167 1213l18 -0M1431 1141l19 -4M1333 1167l39 -4M1371 1169l30 -4M1218 1278l21 -1M1199 1242l30 -1M1223 1176l31 -1M1393 1159l38 -6M1374 1166l17 -2M1184 1195l36 -1M1451 1285l18 -4M1374 1179l26 -3M1278 1275l20 -1M1323 1166l27 -2M1345 1169l37 -4M1428 1145l26 -5M1177 1241l28 -1M1320 1186l24 -2M1327 1168l15 -1M1226 1192l32 -1M1341 1164l27 -3M1740 1122l4 9M1713 1201l1 6M1774 1144l4 5M1778 1140l9 10M1736 1258l3 6M1706 1087l1 10M1758 1133l5 8M1808 1107l9 8M1785 1116l8 9M1636 1110l9 -13M1494 1136l14 -5M1633 1100l6 -8M1344 1173l7 -1M1702 1084l1 6M1468 1163l14 -4M1395 1173l12 -2M1484 1143l8 -2M1258 1184l14 -1M1652 1077l5 -10" stroke="#000c84" stroke-width="2" fill="none"/>
<path d="M1540 1252l12 -6M1506 1284l11 -4M1462 1156l12 -3M1646 1250l7 -12M1617 1136l6 -6M1542 1273l11 -5M1681 1220l2 -7M1507 1131l14 -5M1567 1274l6 -4M1695 1218l1 -9M1694 1255l1 -12M1546 1170l13 -7M1587 1291l10 -8M1676 1257l2 -8M1609 1260l7 -7M1630 1219l8 -11M1546 1151l8 -4M1502 1272l11 -4M1471 1174l8 -2M1572 1269l12 -8M1448 1254l8 -2M1591 1132l6 -5M1442 1249l10 -2M1512 1122l8 -3M1584 1131l10 -7M1571 1140l12 -8M1559 1255l13 -8M1551 1135l10 -6M1543 1124l10 -5M1494 1278l14 -5M1533 1122l10 -5M1562 1247l12 -7M1686 1208l2 -10M1578 1127l10 -7M1549 1127l11 -6M1547 1290l7 -4M1676 1242l3 -11M1358 1178l32 -4M1216 1276l16 -1M1222 1249l31 -1M1288 1168l26 -2M1185 1276l25 -1M1371 1163l27 -3M1167 1216l33 -1M1174 1271l15 -0M1417 1177l24 -4M1177 1274l39 -1M1317 1281l33 -3M1224 1277l26 -1M1254 1263l21 -1M1348 1282l23 -2M1399 1279l29 -5M1235 1278l20 -1M1250 1177l27 -1M1184 1244l39 -1M1434 1147l17 -3M1320 1178l16 -1M1261 1173l35 -2M1405 1190l28 -5M1195 1195l37 -1M1418 1163l25 -5M1828 1231l10 7M1769 1160l7 9M1784 1198l4 5M1807 1267l10 9M1762 1253l7 10M1776 1190l8 9M1388 1161l8 -1M1282 1182l10 -1M1605 1121l6 -6M1355 1172l12 -1M1529 1132l12 -5M1350 1194l11 -1M1570 1130l9 -6M1348 1166l16 -2M1483 1135l9 -3" stroke="#000c84" stroke-width="3" fill="none"/>
<path d="M1704 1176l1 8M1616 1210l9 -10M1673 1252l3 -12M1460 1162l9 -2M1442 1250l11 -2M1647 1224l6 -10M1567 1124l10 -6M1480 1242l7 -2M1665 1197l5 -13M1444 1165l13 -3M1703 1175l1 14M1694 1244l1 -11M1473 1237l12 -3M1560 1237l8 -5M1664 1201l3 -7M1582 1260l6 -4M1459 1154l12 -3M1608 1288l7 -7M1647 1198l5 -8M1633 1253l5 -7M1460 1148l9 -2M1482 1261l9 -3M1707 1211l1 8M1543 1138l9 -4M1491 1141l12 -4M1520 1172l8 -3M1452 1145l11 -2M1515 1279l11 -4M1662 1260l4 -9M1620 1244l7 -8M1651 1236l7 -13M1745 1207l5 11M1763 1121l7 10M1812 1105l5 4M1766 1137l6 8M1746 1187l6 11M1730 1160l4 11M1710 1179l2 13M1737 1182l6 13" stroke="#000c84" stroke-width="4" fill="none"/>
<path d="M1522 1146l9 -4M1520 1146l8 -3M1512 1281l9 -4M1500 1180l10 -3M1517 1160l11 -4M1575 1287l9 -6M1555 1286l9 -5M1476 1282l13 -4M1527 1241l9 -4M1475 1281l13 -4M1538 1151l10 -5M1639 1209l8 -12M1507 1157l13 -5M1607 1269l9 -9M1500 1179l11 -4M1555 1135l9 -5M1459 1263l13 -3M1707 1156l1 9M1583 1240l7 -5M1469 1158l8 -2M1558 1131l12 -7M1614 1137l9 -10M1496 1170l9 -3M1470 1141l7 -2M1512 1247l8 -3M1495 1135l11 -4M1524 1151l12 -5M1456 1148l7 -2M1624 1249l5 -5M1528 1263l8 -3M1674 1233l3 -9M1677 1206l2 -8M1678 1235l2 -7M1498 1233l8 -3M1447 1147l7 -1M1435 1148l12 -3M1710 1235l2 12M1536 1286l11 -5M1564 1242l12 -8M1459 1156l9 -2M1497 1286l11 -4M1561 1123l11 -6M1566 1275l8 -5" stroke="#000c84" stroke-width="5" fill="none"/>
<path d="M1412 1162l24 -4M1254 1187l32 -2M1231 1262l24 -1M1396 1279l36 -6M1414 1167l38 -7M1294 1180l35 -2M1401 1177l32 -5M1216 1281l23 -1M1245 1280l18 -1M1817 1121l5 4M1738 1144l4 9M1756 1267l5 9M1707 1215l1 10M1727 1139l3 9M1815 1115l6 5M1751 1125l7 12M1819 1232l5 4M1587 1114l12 -10M1460 1147l10 -2M1555 1124l12 -7M1511 1167l11 -4M1515 1135l9 -3M1339 1176l13 -1M1656 1095l6 -12M1265 1172l7 -0" stroke="#000c90" stroke-width="2" fill="none"/>
<path d="M1436 1161l13 -3M1661 1210l5 -13M1449 1175l14 -3M1711 1180l2 11M1522 1222l13 -5M1682 1265l2 -8M1542 1280l13 -6M1581 1285l8 -6M1644 1180l4 -6M1671 1270l3 -9M1700 1210l1 14M1551 1133l12 -6M1590 1135l8 -6M1702 1237l1 12M1457 1248l9 -2M1480 1144l8 -2M1579 1261l7 -5M1223 1275l36 -1M1293 1178l31 -2M1216 1186l38 -1M1413 1194l21 -4M1179 1256l38 -1M1382 1283l21 -3M1383 1189l16 -2M1428 1274l35 -7M1177 1200l39 -1M1336 1179l36 -4M1317 1175l29 -2M1292 1278l15 -1M1255 1176l30 -2M1358 1284l28 -3M1788 1281l8 8M1731 1269l4 11M1743 1139l3 7M1769 1125l4 6M1708 1164l1 7M1804 1102l9 8M1334 1164l13 -1M1462 1160l14 -4M1336 1189l16 -1" stroke="#000c90" stroke-width="3" fill="none"/>
<path d="M1449 1136l13 -3M1591 1279l9 -7M1676 1178l2 -8M1509 1274l7 -2M1446 1270l10 -2M1621 1230l6 -7M1533 1134l11 -5M1500 1166l12 -4M1442 1174l11 -2M1673 1207l2 -7M1646 1213l7 -12M1590 1142l11 -9M1728 1137l4 11M1730 1137l3 8M1807 1181l8 7M1819 1216l5 4M1723 1187l3 9" stroke="#000c90" stroke-width="4" fill="none"/>
<path d="M1594 1274l9 -8M1582 1137l9 -7M1556 1146l11 -7M1599 1125l5 -5M1670 1215l3 -10M1522 1283l12 -5M1571 1206l9 -6M1624 1284l7 -8M1596 1270l11 -10M1514 1147l12 -5M1505 1161l13 -5M1654 1232l5 -11" stroke="#000c90" stroke-width="5" fill="none"/>
<path d="M1206 1274l29 -1M1301 1174l15 -1M1196 1191l21 -1M1440 1282l27 -6M1193 1210l24 -1M1399 1160l27 -4M1194 1183l34 -1M1293 1182l36 -3M1191 1195l24 -1M1298 1171l35 -3M1378 1169l34 -5M1267 1281l19 -1M1421 1183l17 -3M1367 1158l14 -2M1243 1274l24 -1M1320 1204l31 -3M1398 1258l25 -4M1324 1190l39 -4M1353 1280l28 -3M1380 1179l33 -5M1355 1278l29 -3M1764 1223l4 5M1827 1208l11 8M1798 1242l5 5M1442 1166l15 -3M1528 1131l12 -5M1565 1143l11 -7M1547 1158l7 -4M1497 1151l12 -4M1585 1140l10 -8" stroke="#001890" stroke-width="2" fill="none"/>
<path d="M1465 1168l8 -2M1606 1246l9 -9M1605 1249l8 -8M1489 1273l12 -4M1587 1124l7 -6M1479 1146l9 -3M1654 1242l6 -11M1586 1272l7 -5M1496 1258l14 -5M1593 1284l10 -9M1600 1259l11 -10M1272 1179l40 -2M1242 1279l14 -1M1413 1170l21 -4M1269 1256l23 -1M1339 1177l18 -2M1182 1203l31 -1M1255 1183l22 -1M1170 1243l39 -1M1420 1153l37 -7M1346 1281l37 -4M1184 1273l25 -1M1407 1156l29 -5M1285 1171l29 -2M1377 1281l25 -3M1194 1269l22 -1M1313 1172l31 -3M1805 1129l5 5M1707 1113l1 8M1524 1134l9 -4M1323 1185l12 -1M1566 1137l13 -9M1275 1187l12 -1M1369 1152l8 -1" stroke="#001890" stroke-width="3" fill="none"/>
<path d="M1501 1154l7 -2M1602 1248l7 -6M1465 1142l8 -2M1449 1140l11 -3M1695 1250l1 -10M1661 1216l4 -9M1672 1218l2 -8M1515 1148l11 -4M1447 1148l10 -2M1558 1290l7 -4M1703 1180l1 8M1695 1202l1 -15M1630 1262l5 -7M1696 1189l0 -8M1663 1239l3 -8M1674 1216l4 -14M1556 1147l10 -6M1535 1260l7 -3M1477 1275l14 -4M1661 1221l4 -9M1617 1240l7 -8M1570 1124l8 -5M1827 1112l8 6M1759 1121l6 10M1785 1245l9 10" stroke="#001890" stroke-width="4" fill="none"/>
<path d="M1513 1285l7 -3M1593 1134l10 -9M1514 1144l12 -5M1614 1236l5 -5M1465 1167l8 -2M1506 1130l12 -4M1456 1168l13 -3M1624 1232l6 -7M1615 1223l5 -5M1450 1277l11 -3M1498 1151l12 -4M1474 1158l9 -2M1621 1236l8 -9M1552 1167l7 -4M1587 1232l6 -4M1481 1267l13 -4M1568 1276l9 -6M1673 1276l2 -7M1655 1265l6 -12M1480 1155l8 -2M1556 1124l12 -7" stroke="#001890" stroke-width="5" fill="none"/>
<path d="M1377 1181l25 -3M1250 1270l30 -1M1374 1179l30 -4M1191 1195l26 -1M1416 1185l35 -7M1331 1168l29 -3M1339 1168l36 -4M1398 1175l36 -6M1198 1263l25 -1M1264 1184l23 -1M1229 1187l15 -1M1392 1277l22 -3M1206 1184l38 -1M1450 1175l17 -4M1423 1183l18 -3M1322 1190l26 -2M1242 1199l33 -2M1179 1203l38 -1M1222 1278l32 -1M1198 1193l35 -1M1337 1182l16 -2M1296 1179l25 -2M1814 1182l8 7M1742 1275l3 6M1756 1130l6 10M1811 1119l5 4M1626 1119l7 -8M1505 1154l14 -5M1566 1156l8 -5M1598 1123l7 -6M1274 1176l11 -1M1439 1164l14 -3" stroke="#00189c" stroke-width="2" fill="none"/>
<path d="M1555 1291l10 -6M1577 1265l8 -6M1487 1153l11 -4M1604 1141l9 -9M1575 1247l6 -4M1664 1248l5 -12M1466 1130l8 -2M1476 1155l8 -2M1633 1218l8 -11M1585 1228l8 -6M1495 1232l9 -3M1597 1230l11 -10M1446 1244l12 -3M1634 1208l8 -11M1438 1182l9 -2M1650 1231l5 -8M1505 1287l11 -4M1689 1206l2 -15M1664 1233l5 -14M1460 1140l8 -2M1605 1236l6 -5M1321 1171l33 -3M1425 1279l21 -4M1176 1243l19 -0M1248 1199l34 -2M1265 1178l17 -1M1426 1164l27 -5M1305 1178l27 -2M1399 1182l25 -4M1358 1267l36 -4M1290 1254l23 -2M1206 1271l16 -1M1334 1158l24 -2M1438 1278l16 -3M1355 1168l31 -3M1269 1279l21 -1M1325 1269l40 -4M1431 1262l16 -3M1170 1267l31 -1M1261 1182l27 -1M1254 1188l29 -1M1447 1158l21 -5M1282 1196l10 -1M1432 1144l8 -1M1620 1106l8 -9" stroke="#00189c" stroke-width="3" fill="none"/>
<path d="M1708 1195l2 11M1471 1142l13 -4M1627 1204l9 -11M1556 1255l7 -4M1560 1249l11 -7M1589 1209l7 -6M1496 1152l11 -4M1611 1258l10 -11M1500 1144l9 -3M1613 1241l10 -10M1558 1258l13 -7M1637 1237l4 -6M1630 1212l9 -12M1574 1136l10 -7M1650 1215l6 -12M1760 1142l5 8M1726 1232l4 12" stroke="#00189c" stroke-width="4" fill="none"/>
<path d="M1477 1242l13 -4M1644 1205l4 -6M1453 1158l14 -3M1644 1185l5 -9M1551 1143l7 -4M1555 1138l9 -5M1524 1140l7 -3M1457 1172l13 -3M1509 1279l12 -5M1482 1262l13 -4M1465 1139l8 -2M1489 1262l7 -2M1625 1141l8 -10M1558 1159l9 -5M1531 1278l11 -5M1511 1235l10 -4M1593 1127l10 -8M1543 1169l12 -6M1448 1247l7 -2" stroke="#00189c" stroke-width="5" fill="none"/>
<path d="M1212 1278l29 -1M1281 1184l37 -2M1315 1175l38 -3M1386 1270l29 -4M1307 1193l14 -1M1418 1182l23 -4M1288 1275l38 -3M1396 1174l32 -5M1348 1203l32 -3M1800 1264l9 9M1815 1212l9 8M1371 1190l16 -2M1656 1088l4 -9M1639 1095l5 -8M1554 1146l13 -7M1303 1193l10 -1" stroke="#00249c" stroke-width="2" fill="none"/>
<path d="M1632 1134l7 -10M1658 1192l4 -8M1532 1144l12 -6M1454 1186l14 -3M1550 1154l10 -5M1697 1190l1 15M1472 1161l7 -2M1586 1137l11 -9M1542 1148l9 -5M1702 1169l1 11M1680 1175l3 -14M1497 1154l10 -3M1685 1233l2 -13M1315 1271l37 -3M1206 1249l19 -1M1217 1253l20 -1M1407 1273l29 -5M1173 1246l22 -1M1392 1163l19 -3M1711 1188l2 10M1711 1108l2 12M1795 1272l9 9M1311 1173l13 -1" stroke="#00249c" stroke-width="3" fill="none"/>
<path d="M1574 1221l12 -8M1532 1155l12 -5M1534 1150l7 -3M1502 1134l7 -2M1547 1236l10 -5M1546 1259l9 -4M1610 1141l6 -6M1666 1256l3 -9M1496 1250l9 -3M1625 1128l7 -8M1487 1161l11 -3M1768 1238l8 11" stroke="#00249c" stroke-width="4" fill="none"/>
<path d="M1547 1263l11 -6M1489 1171l10 -3M1579 1225l10 -7M1652 1181l6 -11M1487 1160l14 -4M1518 1136l8 -3M1545 1156l11 -6" stroke="#00249c" stroke-width="5" fill="none"/>
<path d="M1181 1261l38 -1M1437 1172l14 -3M1234 1282l36 -2M1228 1259l31 -1M1375 1280l28 -4M1252 1184l35 -2M1256 1195l21 -1M1317 1203l29 -2M1201 1204l31 -1M1261 1282l39 -2M1371 1274l26 -3M1169 1272l40 -1M1396 1253l38 -6M1404 1173l38 -7M1236 1273l28 -1M1732 1156l3 7M1734 1143l4 10M1714 1215l2 11M1824 1211l9 7M1440 1175l12 -2M1315 1176l7 -0M1434 1178l7 -1M1449 1158l7 -2M1583 1134l6 -4M1611 1120l6 -6M1613 1109l7 -7M1637 1116l8 -13" stroke="#0024a8" stroke-width="2" fill="none"/>
<path d="M1594 1230l11 -10M1600 1286l10 -9M1467 1277l9 -2M1642 1202l4 -7M1451 1161l14 -3M1583 1134l7 -5M1519 1263l11 -4M1668 1232l5 -14M1561 1258l10 -6M1495 1269l13 -4M1462 1278l13 -3M1463 1152l10 -2M1452 1159l10 -2M1671 1142l3 -8M1660 1145l5 -12M1519 1177l11 -4M1583 1258l8 -6M1548 1257l11 -6M1452 1171l12 -3M1497 1246l9 -3M1621 1260l8 -9M1498 1143l9 -3M1529 1148l13 -6M1632 1224l6 -8M1508 1141l10 -4M1688 1232l2 -12M1644 1213l7 -12M1703 1123l1 9M1606 1124l8 -7M1638 1189l7 -10M1232 1186l37 -2M1254 1279l37 -2M1267 1191l38 -2M1302 1170l35 -3M1359 1192l23 -3M1437 1258l23 -5M1428 1280l29 -6M1213 1198l28 -1M1283 1193l36 -2M1233 1204l35 -1M1309 1175l24 -2M1245 1254l22 -1M1203 1274l22 -1M1440 1248l36 -8M1393 1184l38 -6M1294 1182l26 -2M1796 1157l6 6M1784 1116l5 6M1726 1261l3 10M1767 1285l6 8M1311 1194l8 -1M1513 1162l13 -5M1575 1145l6 -4M1561 1132l11 -6M1609 1126l9 -9M1320 1194l14 -1M1656 1131l5 -12M1502 1133l10 -4M1257 1176l12 -1" stroke="#0024a8" stroke-width="3" fill="none"/>
<path d="M1602 1220l8 -7M1512 1280l13 -5M1441 1173l13 -3M1605 1242l8 -8M1512 1267l7 -2M1602 1197l8 -7M1571 1254l12 -8M1669 1184l5 -14M1636 1135l8 -12M1483 1139l11 -3M1600 1283l6 -5M1707 1116l2 12M1482 1246l11 -3M1661 1203l3 -8M1599 1269l10 -9M1525 1152l13 -6M1743 1147l5 10M1756 1129l5 8M1751 1276l4 8" stroke="#0024a8" stroke-width="4" fill="none"/>
<path d="M1577 1277l11 -7M1498 1285l14 -5M1498 1279l13 -5M1535 1162l13 -6M1444 1151l11 -2M1582 1159l8 -6M1469 1247l10 -3M1494 1182l14 -4M1684 1207l1 -8M1588 1237l8 -6M1660 1140l3 -7M1484 1155l13 -4M1594 1285l10 -9M1708 1229l2 13M1473 1174l12 -3M1576 1234l11 -8M1458 1252l8 -2M1684 1188l3 -14M1524 1154l10 -4M1701 1195l1 14M1481 1179l12 -3M1505 1242l8 -3M1514 1266l9 -4M1497 1133l7 -2M1557 1278l10 -6M1667 1143l4 -10M1475 1161l10 -3" stroke="#0024a8" stroke-width="5" fill="none"/>
<path d="M1415 1177l36 -7M1391 1191l26 -4M1378 1182l15 -2M1314 1267l31 -3M1199 1205l33 -1M1271 1180l35 -2M1515 1158l14 -6M1500 1154l10 -3" stroke="#0030a8" stroke-width="2" fill="none"/>
<path d="M1704 1128l1 10M1665 1220l3 -8M1567 1144l10 -6M1659 1227l3 -7M1523 1162l7 -3M1445 1189l7 -2M1556 1169l13 -7M1687 1204l1 -8M1178 1254l23 -1M1362 1168l15 -2M1312 1272l17 -1M1425 1175l28 -6M1279 1186l7 -0M1478 1163l13 -4M1299 1188l7 -0" stroke="#0030a8" stroke-width="3" fill="none"/>
<path d="M1550 1166l11 -6M1463 1244l9 -2M1534 1266l10 -5M1585 1151l10 -8M1669 1176l2 -7M1709 1216l1 6" stroke="#0030a8" stroke-width="4" fill="none"/>
<path d="M1542 1130l11 -6M1538 1230l12 -6M1558 1258l11 -6M1660 1214l4 -10M1628 1218l5 -6" stroke="#0030a8" stroke-width="5" fill="none"/>
<path d="M1282 1274l33 -2M1338 1175l24 -2M1426 1280l23 -4M1329 1174l8 -1M1332 1170l11 -1" stroke="#0c30a8" stroke-width="2" fill="none"/>
<path d="M1653 1194l5 -10M1652 1213l6 -12M1473 1243l12 -3M1463 1286l14 -4M1540 1216l10 -5M1641 1231l4 -6M1471 1238l13 -4M1301 1190l17 -1M1310 1200l23 -2M1420 1162l17 -3M1319 1197l15 -1M1523 1153l9 -4M1536 1169l9 -4" stroke="#0c30a8" stroke-width="3" fill="none"/>
<path d="M1459 1150l10 -2M1503 1158l7 -3M1456 1247l10 -2M1484 1283l7 -2M1497 1278l10 -3M1778 1136l8 10" stroke="#0c30a8" stroke-width="4" fill="none"/>
<path d="M1703 1172l1 12M1593 1237l10 -9M1707 1184l1 8M1708 1185l2 10M1570 1241l11 -7" stroke="#0c30a8" stroke-width="5" fill="none"/>
<path d="M1440 1190l28 -6M1428 1166l30 -6M1420 1184l19 -3M1445 1154l14 -3M1341 1267l19 -2M1416 1181l32 -6M1229 1191l16 -1M1299 1253l26 -2M1435 1188l24 -5M1350 1278l17 -2M1192 1277l19 -1M1236 1188l23 -1M1241 1279l29 -1M1333 1278l23 -2M1428 1195l35 -7M1294 1196l38 -3M1358 1173l27 -3M1188 1252l33 -1M1376 1188l32 -4M1428 1160l19 -4M1399 1273l37 -6M1244 1259l36 -2M1214 1253l33 -1M1191 1269l40 -1M1247 1193l21 -1M1409 1277l16 -3M1371 1192l22 -3M1420 1247l39 -8M1735 1138l5 12M1717 1146l2 9M1753 1221l6 10M1453 1157l8 -2M1421 1174l6 -1M1589 1149l11 -9M1669 1113l3 -8M1676 1095l3 -12M1434 1185l14 -3M1476 1145l6 -2M1309 1197l10 -1M1552 1136l13 -7M1297 1181l9 -1M1649 1120l5 -9M1544 1146l6 -3M1431 1185l7 -1M1279 1185l15 -1" stroke="#0c30b4" stroke-width="2" fill="none"/>
<path d="M1445 1161l10 -2M1476 1280l13 -4M1536 1255l12 -6M1519 1123l10 -4M1493 1234l14 -5M1482 1270l9 -3M1627 1206l7 -9M1492 1273l12 -4M1661 1212l6 -14M1602 1272l8 -7M1476 1155l11 -3M1532 1151l11 -5M1538 1134l11 -5M1632 1123l5 -6M1672 1194l3 -9M1634 1147l8 -12M1638 1192l4 -6M1611 1205l7 -7M1669 1199l4 -12M1541 1264l11 -5M1590 1281l10 -8M1491 1149l12 -4M1620 1130l7 -9M1385 1180l38 -6M1346 1187l38 -4M1256 1254l28 -1M1355 1271l22 -2M1202 1199l35 -1M1252 1202l37 -2M1398 1261l34 -6M1436 1264l38 -9M1208 1267l34 -1M1293 1202l31 -2M1368 1180l36 -5M1186 1264l35 -1M1184 1195l29 -1M1403 1261l27 -4M1394 1174l32 -5M1366 1259l32 -4M1313 1194l22 -2M1434 1278l17 -4M1416 1175l31 -6M1448 1156l16 -4M1414 1182l16 -3M1420 1254l30 -6M1707 1154l1 9M1454 1168l12 -3M1607 1138l9 -9M1282 1185l7 -0M1487 1150l15 -5M1376 1182l7 -1M1418 1167l13 -2M1322 1186l11 -1" stroke="#0c30b4" stroke-width="3" fill="none"/>
<path d="M1699 1200l0 9M1484 1179l11 -3M1595 1219l10 -9M1559 1156l8 -4M1701 1221l1 12M1543 1254l9 -4M1636 1142l6 -9M1629 1213l6 -8M1626 1245l7 -9M1528 1245l7 -3M1469 1259l7 -2M1461 1175l12 -3M1642 1202l4 -6M1728 1289l3 9M1777 1230l9 11M1719 1241l2 7" stroke="#0c30b4" stroke-width="4" fill="none"/>
<path d="M1463 1139l10 -3M1635 1197l8 -11M1522 1276l8 -3M1549 1284l11 -6M1704 1182l1 10M1588 1231l6 -5M1585 1137l9 -7M1701 1217l1 14M1511 1133l11 -4M1692 1250l1 -8M1595 1240l9 -7M1538 1161l6 -3M1521 1132l13 -5M1522 1168l11 -5M1698 1167l1 13M1683 1235l2 -11M1594 1247l7 -5M1543 1143l8 -4M1486 1260l10 -3M1461 1173l9 -2" stroke="#0c30b4" stroke-width="5" fill="none"/>
<path d="M1616 1121l9 -10" stroke="#0c3cb4" stroke-width="2" fill="none"/>
<path d="M1542 1157l13 -7M1492 1235l13 -4M1515 1152l7 -3M1515 1270l11 -4M1488 1234l14 -4M1570 1140l10 -6M1221 1199l35 -1M1256 1193l34 -2M1384 1249l25 -4M1201 1245l19 -1M1765 1149l4 6M1311 1191l15 -1" stroke="#0c3cb4" stroke-width="3" fill="none"/>
<path d="M1531 1140l9 -4M1575 1240l9 -6M1630 1222l5 -7M1626 1137l8 -10M1704 1203l2 14M1764 1232l7 10" stroke="#0c3cb4" stroke-width="4" fill="none"/>
<path d="M1667 1180l3 -8M1701 1233l1 14M1624 1144l6 -7M1492 1144l12 -4M1667 1228l3 -8" stroke="#0c3cb4" stroke-width="5" fill="none"/>
<path d="M1405 1170l15 -2M1289 1280l17 -1M1407 1251l24 -4M1318 1189l26 -2M1451 1172l15 -3M1299 1265l24 -2M1343 1268l36 -4M1201 1246l21 -1M1390 1280l35 -5M1434 1182l26 -6M1250 1194l19 -1M1415 1188l29 -5M1215 1204l31 -1M1334 1185l36 -3M1194 1269l20 -1M1194 1269l29 -1M1325 1270l16 -1M1348 1190l39 -4M1305 1259l36 -3M1645 1096l7 -11M1365 1189l10 -1M1391 1169l15 -2M1295 1198l15 -1M1635 1130l5 -7M1558 1147l12 -7M1398 1186l10 -2M1607 1130l11 -11M1273 1181l12 -1M1436 1162l11 -2" stroke="#0c3cc0" stroke-width="2" fill="none"/>
<path d="M1679 1184l2 -8M1590 1148l8 -6M1617 1258l8 -9M1441 1253l13 -3M1497 1143l14 -5M1676 1211l3 -12M1706 1210l1 9M1575 1161l11 -7M1438 1191l11 -2M1517 1174l9 -4M1542 1229l12 -6M1599 1233l8 -7M1583 1229l11 -8M1705 1134l1 8M1526 1219l11 -5M1597 1141l11 -10M1537 1170l11 -5M1696 1207l0 -7M1559 1256l9 -5M1461 1241l14 -4M1672 1241l3 -10M1677 1176l3 -12M1477 1241l11 -3M1336 1281l39 -4M1399 1271l37 -6M1388 1266l18 -3M1344 1266l16 -2M1394 1171l14 -2M1208 1195l28 -1M1261 1200l33 -2M1187 1269l30 -1M1207 1258l16 -1M1424 1246l35 -7M1395 1269l28 -4M1306 1203l22 -2M1192 1202l30 -1M1309 1202l28 -2M1301 1278l32 -2M1305 1275l34 -3M1322 1280l15 -1M1262 1189l16 -1M1732 1161l4 10M1713 1142l2 11M1802 1187l6 6M1778 1143l5 6M1692 1098l1 -12M1639 1098l4 -6M1405 1191l9 -1M1383 1165l9 -1M1405 1173l11 -2M1586 1157l6 -5M1573 1161l12 -8M1357 1165l10 -1M1564 1145l12 -7M1330 1167l7 -1" stroke="#0c3cc0" stroke-width="3" fill="none"/>
<path d="M1555 1222l12 -7M1484 1247l11 -3M1559 1140l10 -6M1450 1185l11 -2M1436 1173l11 -2M1602 1144l6 -5M1446 1167l8 -2M1604 1206l11 -10M1593 1277l11 -9M1589 1224l12 -9M1434 1255l14 -3M1587 1153l11 -9M1688 1136l1 -9M1518 1165l10 -4M1512 1154l9 -4M1524 1152l10 -4M1608 1244l5 -5M1616 1151l8 -9M1575 1216l9 -6M1530 1286l11 -5M1658 1194l3 -7M1492 1239l10 -3M1535 1225l10 -4M1473 1234l10 -3M1804 1237l8 7M1814 1231l6 5" stroke="#0c3cc0" stroke-width="4" fill="none"/>
<path d="M1584 1257l7 -5M1600 1136l11 -10M1699 1168l1 9M1603 1236l8 -8M1492 1149l12 -4M1679 1185l2 -8M1534 1152l13 -6M1443 1157l8 -2M1511 1145l11 -4M1501 1174l11 -4M1562 1252l12 -8M1491 1142l8 -2M1641 1136l6 -10M1553 1262l11 -6M1538 1262l8 -4M1610 1248l8 -8M1528 1168l10 -5M1608 1256l9 -9M1440 1183l13 -3M1496 1174l10 -3M1698 1212l0 9M1584 1148l7 -5M1480 1253l9 -3M1608 1202l8 -8M1588 1136l7 -6" stroke="#0c3cc0" stroke-width="5" fill="none"/>
<path d="M1432 1279l35 -7M1366 1271l34 -4M1378 1271l38 -5M1443 1177l24 -6M1285 1182l34 -2M1403 1160l26 -4M1436 1264l16 -3M1394 1269l27 -4M1270 1198l40 -2M1441 1246l22 -5M1816 1228l8 6M1644 1101l6 -10M1639 1114l8 -13" stroke="#0c48c0" stroke-width="2" fill="none"/>
<path d="M1552 1265l12 -7M1564 1159l11 -7M1489 1139l10 -3M1529 1155l8 -4M1584 1255l6 -5M1477 1165l11 -3M1701 1226l1 7M1540 1153l10 -5M1481 1177l9 -3M1476 1235l7 -2M1548 1271l13 -7M1316 1275l36 -3M1222 1191l23 -1M1292 1274l23 -1M1434 1277l27 -6M1359 1172l37 -4M1416 1279l36 -7M1281 1276l20 -1M1329 1267l28 -3M1247 1182l40 -2M1340 1176l16 -1M1442 1183l15 -3M1715 1175l3 13M1463 1166l15 -4M1589 1148l6 -5M1433 1164l16 -3M1479 1171l10 -3M1606 1122l8 -7M1500 1148l9 -3M1374 1188l15 -2M1453 1181l7 -2" stroke="#0c48c0" stroke-width="3" fill="none"/>
<path d="M1524 1165l10 -4M1556 1236l8 -5M1621 1260l5 -6M1601 1217l6 -5M1696 1192l0 -11" stroke="#0c48c0" stroke-width="4" fill="none"/>
<path d="M1671 1228l3 -11M1538 1140l12 -6M1524 1161l7 -3M1510 1276l13 -5M1476 1174l8 -2M1515 1273l7 -3M1577 1260l8 -6M1470 1175l14 -4M1588 1150l11 -9" stroke="#0c48c0" stroke-width="5" fill="none"/>
<path d="M1282 1196l20 -1M1312 1264l35 -3M1356 1256l36 -4M1226 1188l39 -2M1225 1204l35 -1M1436 1279l29 -6M1179 1270l27 -1M1286 1187l32 -2M1439 1249l21 -5M1413 1265l30 -5M1225 1197l38 -2M1259 1265l35 -2M1423 1246l37 -7M1395 1169l22 -3M1230 1189l21 -1M1258 1273l24 -1M1823 1104l10 7M1707 1165l1 6M1548 1145l14 -8M1395 1191l14 -2M1443 1155l10 -2M1385 1192l6 -1M1576 1151l12 -8M1562 1163l7 -4M1273 1194l15 -1" stroke="#0c48cc" stroke-width="2" fill="none"/>
<path d="M1443 1190l9 -2M1524 1270l9 -4M1544 1237l9 -5M1478 1145l11 -3M1546 1138l10 -5M1482 1160l7 -2M1560 1228l13 -8M1666 1227l5 -13M1572 1253l12 -8M1661 1213l3 -8M1438 1258l14 -3M1666 1140l3 -8M1670 1136l3 -8M1605 1135l6 -5M1645 1231l4 -7M1480 1233l12 -4M1634 1187l7 -10M1585 1263l9 -7M1625 1242l6 -7M1615 1130l7 -8M1410 1257l37 -7M1298 1194l25 -2M1324 1190l29 -3M1447 1275l17 -4M1234 1271l34 -1M1265 1251l30 -2M1208 1265l25 -1M1262 1199l36 -2M1322 1196l40 -4M1223 1256l34 -1M1385 1185l21 -3M1374 1192l38 -5M1319 1202l39 -3M1314 1265l29 -2M1361 1183l19 -2M1258 1268l30 -2M1361 1180l32 -4M1788 1118l9 10M1682 1111l1 -6M1557 1117l8 -4M1526 1147l10 -4M1267 1192l13 -1M1625 1129l6 -7M1612 1118l9 -9M1676 1099l2 -8M1648 1110l5 -9M1569 1144l9 -6M1524 1148l15 -6" stroke="#0c48cc" stroke-width="3" fill="none"/>
<path d="M1665 1231l5 -13M1595 1209l8 -7M1496 1136l8 -2M1495 1248l9 -3M1549 1163l10 -5M1563 1207l9 -5M1580 1251l8 -6M1586 1248l8 -6M1603 1231l10 -9M1564 1241l12 -8M1702 1180l1 8M1499 1150l12 -4M1651 1192l6 -11M1676 1231l2 -9M1506 1127l12 -4M1497 1171l11 -4M1650 1191l5 -10M1492 1261l12 -4M1653 1210l5 -10M1695 1225l1 -14M1603 1245l5 -5" stroke="#0c48cc" stroke-width="4" fill="none"/>
<path d="M1556 1235l12 -7M1468 1246l8 -2M1435 1189l10 -2M1448 1151l8 -2M1449 1191l12 -3M1710 1160l2 12M1544 1235l12 -6M1521 1157l8 -3M1442 1277l7 -1M1516 1137l12 -5M1592 1131l6 -5M1440 1192l12 -3M1479 1253l13 -4M1498 1154l9 -3M1471 1272l11 -3M1687 1129l1 -8M1660 1244l4 -8" stroke="#0c48cc" stroke-width="5" fill="none"/>
<path d="M1289 1186l33 -2M1280 1269l18 -1M1355 1269l16 -2M1194 1272l16 -0M1424 1258l29 -6M1249 1260l23 -1M1327 1275l27 -2M1196 1206l40 -1M1185 1270l39 -1M1325 1265l19 -2M1354 1272l32 -4M1443 1260l32 -7M1294 1252l29 -2M1442 1167l32 -7M1340 1187l9 -1M1546 1155l13 -7M1413 1175l8 -1" stroke="#0c54cc" stroke-width="2" fill="none"/>
<path d="M1543 1150l8 -4M1518 1258l13 -5M1550 1147l13 -7M1488 1168l8 -2M1564 1225l12 -7M1462 1271l14 -4M1674 1184l4 -14M1556 1164l10 -6M1689 1200l2 -13M1632 1254l5 -6M1491 1250l9 -3M1611 1133l10 -11M1465 1185l14 -4M1419 1177l33 -6M1377 1249l32 -4M1374 1161l27 -3M1207 1249l16 -1M1413 1186l14 -2M1334 1188l23 -2M1353 1194l16 -2M1223 1250l33 -1M1394 1279l30 -5M1362 1268l16 -2M1291 1199l7 -0M1389 1196l14 -2M1477 1162l11 -3" stroke="#0c54cc" stroke-width="3" fill="none"/>
<path d="M1702 1120l1 13M1636 1226l6 -8M1672 1129l2 -7M1525 1162l10 -4M1661 1214l5 -13M1635 1226l5 -7M1544 1236l7 -4M1620 1136l6 -6M1705 1127l1 7M1642 1202l7 -11M1654 1185l7 -13M1523 1153l13 -6M1643 1188l6 -10M1618 1202l8 -10" stroke="#0c54cc" stroke-width="4" fill="none"/>
<path d="M1510 1137l8 -3M1440 1177l11 -2M1671 1131l3 -10M1439 1255l11 -2M1572 1202l8 -5M1604 1199l7 -7M1610 1205l8 -8M1647 1210l6 -11M1536 1168l6 -3M1537 1265l12 -6" stroke="#0c54cc" stroke-width="5" fill="none"/>
<path d="M1401 1266l30 -5M1251 1200l27 -1M1318 1275l14 -1M1212 1255l21 -1M1193 1275l22 -1M1429 1188l14 -3M1255 1275l21 -1M1338 1256l39 -4M1388 1179l37 -6M1377 1261l15 -2M1651 1134l7 -14M1377 1199l7 -1M1699 1129l1 15" stroke="#0c54d8" stroke-width="2" fill="none"/>
<path d="M1596 1138l7 -6M1522 1239l12 -5M1464 1157l11 -3M1576 1206l12 -9M1663 1223l3 -7M1591 1157l6 -5M1682 1220l3 -14M1489 1173l13 -4M1668 1219l3 -10M1276 1198l20 -1M1332 1275l16 -1M1444 1251l30 -7M1335 1253l35 -3M1282 1188l22 -1M1278 1256l34 -2M1440 1165l32 -7M1267 1188l34 -2M1337 1258l18 -2M1316 1254l14 -1M1587 1140l8 -6M1434 1188l8 -2" stroke="#0c54d8" stroke-width="3" fill="none"/>
<path d="M1527 1239l8 -3M1607 1126l8 -8M1523 1173l8 -3M1466 1176l13 -3M1611 1137l5 -5M1566 1239l11 -7M1648 1175l5 -9M1574 1266l8 -5M1665 1176l3 -8M1596 1156l6 -5M1801 1201l10 9" stroke="#0c54d8" stroke-width="4" fill="none"/>
<path d="M1519 1159l7 -3M1555 1239l11 -6M1438 1169l11 -2M1615 1208l7 -8M1537 1156l8 -4M1578 1233l10 -7M1498 1269l12 -4M1465 1238l11 -3M1508 1270l13 -5" stroke="#0c54d8" stroke-width="5" fill="none"/>
<path d="M1382 1264l20 -3M1414 1266l34 -6M1328 1251l37 -3M1241 1204l32 -1M1383 1167l20 -3M1376 1271l35 -5M1434 1264l38 -8M1246 1202l22 -1M1430 1256l22 -4M1330 1180l33 -3M1415 1250l37 -7M1407 1188l33 -6M1228 1277l17 -1M1238 1187l18 -1M1212 1249l16 -1M1336 1255l22 -2M1274 1265l23 -1M1388 1195l35 -5M1708 1157l1 9M1373 1179l14 -2M1624 1130l8 -10M1383 1186l9 -1M1463 1185l7 -2M1622 1120l9 -11M1660 1113l4 -9" stroke="#0c60d8" stroke-width="2" fill="none"/>
<path d="M1567 1210l8 -5M1454 1273l13 -3M1584 1230l8 -6M1598 1203l9 -8M1521 1243l8 -3M1445 1247l12 -3M1604 1123l6 -6M1657 1181l5 -11M1487 1137l13 -4M1449 1171l10 -2M1672 1186l4 -11M1700 1215l0 8M1616 1243l8 -8M1452 1175l14 -3M1613 1197l10 -11M1533 1218l11 -5M1694 1238l1 -12M1553 1219l9 -5M1544 1150l9 -5M1463 1243l14 -4M1316 1191l21 -2M1264 1257l16 -1M1376 1199l27 -4M1238 1203l29 -1M1437 1243l31 -7M1282 1204l20 -1M1389 1251l26 -4M1317 1277l23 -2M1400 1194l17 -3M1252 1278l14 -1M1432 1178l36 -8M1257 1201l34 -2M1289 1253l27 -2M1301 1257l36 -3M1339 1186l34 -3M1768 1120l8 11M1819 1110l7 6M1758 1273l6 9M1562 1140l10 -6M1286 1197l8 -0M1467 1187l12 -3M1538 1169l12 -6M1426 1187l10 -2M1706 1107l1 11M1693 1120l1 -9M1448 1183l7 -2M1705 1126l1 9M1424 1186l7 -1M1675 1133l2 -6M1552 1150l10 -6" stroke="#0c60d8" stroke-width="3" fill="none"/>
<path d="M1465 1266l8 -2M1487 1265l9 -3M1443 1179l12 -3M1531 1228l11 -5M1686 1192l1 -10M1468 1177l9 -2M1501 1232l12 -4M1711 1167l1 8M1528 1240l13 -6M1578 1244l12 -9M1511 1261l9 -3M1693 1142l1 -11M1520 1163l14 -6M1547 1142l12 -6M1706 1189l2 12M1575 1141l11 -8M1564 1237l11 -7M1483 1233l12 -4M1489 1230l9 -3M1474 1235l14 -4M1597 1233l8 -7M1634 1143l6 -9M1679 1141l2 -7M1636 1218l6 -9M1488 1232l14 -4M1535 1127l7 -3M1746 1247l4 9" stroke="#0c60d8" stroke-width="4" fill="none"/>
<path d="M1638 1218l6 -9M1466 1156l11 -3M1702 1166l1 10M1704 1161l1 11M1591 1132l11 -9M1661 1214l4 -10M1663 1230l5 -13M1589 1155l6 -4M1633 1131l5 -7M1468 1263l13 -4M1603 1249l6 -6M1709 1124l2 13M1495 1261l9 -3M1449 1176l7 -2M1518 1146l8 -3M1554 1272l9 -5M1630 1222l6 -7M1710 1199l2 13M1644 1212l7 -11M1436 1186l9 -2M1522 1236l10 -4M1704 1192l2 15M1575 1205l12 -8M1613 1222l9 -9M1666 1209l3 -7" stroke="#0c60d8" stroke-width="5" fill="none"/>
<path d="M1440 1261l26 -6M1362 1272l38 -5M1332 1254l24 -2M1277 1189l16 -1M1456 1162l12 -3M1321 1198l12 -1M1664 1126l4 -10" stroke="#0c60e4" stroke-width="2" fill="none"/>
<path d="M1623 1195l7 -9M1493 1281l9 -3M1454 1165l14 -3M1469 1259l8 -2M1453 1174l12 -3M1630 1126l8 -11M1336 1185l35 -3M1348 1253l37 -4M1423 1195l17 -3M1408 1268l32 -6M1489 1175l13 -4M1488 1176l8 -2M1360 1178l10 -1" stroke="#0c60e4" stroke-width="3" fill="none"/>
<path d="M1488 1281l8 -3M1691 1135l1 -14M1656 1189l6 -12M1564 1236l6 -4M1453 1190l10 -2M1527 1247l7 -3" stroke="#0c60e4" stroke-width="5" fill="none"/>
<path d="M1363 1250l36 -4M1348 1193l17 -2M1442 1268l17 -4M1368 1270l29 -4M1275 1202l14 -1M1384 1271l37 -5M1384 1257l32 -5M1296 1263l36 -3M1300 1276l33 -2M1413 1263l14 -2M1706 1084l2 13M1804 1228l5 5M1527 1174l14 -6M1284 1199l9 -1M1517 1165l6 -2M1346 1196l12 -1M1418 1177l11 -2M1261 1193l9 -0M1665 1097l5 -13" stroke="#0c6ce4" stroke-width="2" fill="none"/>
<path d="M1571 1271l11 -8M1576 1273l8 -5M1580 1141l8 -6M1448 1186l8 -2M1501 1164l12 -4M1669 1138l4 -11M1615 1144l10 -11M1547 1164l7 -4M1678 1198l3 -14M1631 1141l6 -8M1452 1181l12 -3M1528 1154l12 -5M1505 1226l10 -3M1696 1130l1 -15M1569 1237l9 -6M1465 1163l14 -4M1476 1264l14 -4M1514 1151l8 -3M1597 1130l6 -5M1605 1269l7 -7M1530 1267l9 -4M1653 1219l7 -13M1677 1133l3 -10M1301 1205l26 -2M1180 1257l36 -1M1406 1168l39 -7M1277 1198l37 -2M1312 1205l31 -2M1242 1265l30 -1M1233 1264l20 -1M1205 1264l28 -1M1223 1259l33 -1M1442 1272l19 -4M1315 1190l20 -2M1400 1179l15 -2M1485 1174l7 -2M1569 1157l7 -4M1582 1150l7 -5M1581 1150l6 -4M1392 1189l8 -1M1445 1186l9 -2M1410 1184l9 -1M1390 1193l12 -2M1453 1169l14 -3" stroke="#0c6ce4" stroke-width="3" fill="none"/>
<path d="M1655 1137l5 -10M1551 1162l10 -5M1534 1243l11 -5M1601 1229l11 -10M1636 1213l7 -10M1488 1168l7 -2M1556 1216l11 -6M1522 1157l9 -4M1599 1213l9 -8M1701 1223l1 10M1616 1213l9 -10M1587 1216l8 -6M1621 1133l8 -9M1708 1120l1 8M1600 1134l10 -9M1529 1173l8 -3M1490 1273l11 -4M1583 1237l11 -8M1764 1143l5 8" stroke="#0c6ce4" stroke-width="4" fill="none"/>
<path d="M1568 1155l11 -7M1693 1209l1 -14M1688 1183l2 -12M1473 1235l8 -2M1484 1247l12 -4M1532 1227l8 -4M1503 1273l7 -3M1507 1159l12 -4M1685 1227l2 -14M1560 1156l12 -7M1467 1234l11 -3M1656 1193l4 -8M1537 1162l9 -4M1679 1218l2 -10M1560 1141l8 -5M1471 1163l11 -3" stroke="#0c6ce4" stroke-width="5" fill="none"/>
<path d="M1345 1270l34 -4M1226 1264l30 -1M1337 1261l32 -3M1228 1253l24 -1M1731 1145l5 13M1530 1167l12 -5M1625 1127l8 -10M1493 1173l13 -4" stroke="#0c78e4" stroke-width="2" fill="none"/>
<path d="M1577 1220l6 -4M1705 1113l2 14M1484 1148l11 -3M1618 1140l6 -7M1583 1148l9 -7M1286 1188l33 -2M1288 1200l23 -1M1214 1244l17 -1M1358 1260l24 -3M1219 1248l37 -1M1405 1275l36 -6M1354 1192l16 -2M1321 1198l37 -3M1204 1256l26 -1M1365 1192l37 -5M1433 1186l26 -5M1417 1182l9 -2" stroke="#0c78e4" stroke-width="3" fill="none"/>
<path d="M1504 1163l12 -4M1450 1275l11 -2M1473 1164l8 -2M1461 1150l14 -4M1530 1167l9 -4M1474 1240l12 -3M1503 1265l7 -2M1805 1124l9 8" stroke="#0c78e4" stroke-width="4" fill="none"/>
<path d="M1633 1194l8 -12M1568 1162l10 -6M1629 1127l9 -11M1620 1194l6 -7" stroke="#0c78e4" stroke-width="5" fill="none"/>
<path d="M1426 1179l37 -8M1289 1267l17 -1M1295 1276l24 -2M1292 1198l25 -2M1355 1276l33 -4M1381 1199l20 -3M1426 1274l39 -8M1393 1190l10 -1M1450 1177l6 -1M1365 1177l9 -1M1494 1164l9 -3M1649 1138l7 -14" stroke="#0c78f0" stroke-width="2" fill="none"/>
<path d="M1540 1255l11 -6M1473 1189l9 -2M1550 1128l13 -7M1596 1131l9 -8M1522 1167l8 -3M1535 1259l13 -6M1458 1237l8 -2M1510 1224l13 -5M1310 1255l37 -3M1433 1247l33 -7M1330 1196l40 -4M1335 1260l27 -3M1223 1263l31 -1M1345 1189l36 -4M1246 1259l33 -2M1342 1272l30 -3M1709 1164l2 13M1635 1102l4 -5M1578 1151l7 -5M1254 1199l15 -1" stroke="#0c78f0" stroke-width="3" fill="none"/>
<path d="M1665 1211l4 -11M1653 1201l6 -11M1496 1240l9 -3M1479 1137l11 -3M1640 1138l7 -11M1601 1133l10 -9M1703 1181l1 8M1505 1283l12 -4M1508 1178l9 -3M1514 1237l10 -4M1623 1147l6 -7M1553 1159l10 -5M1447 1184l8 -2M1711 1138l2 11" stroke="#0c78f0" stroke-width="4" fill="none"/>
<path d="M1522 1253l12 -5M1482 1181l7 -2M1592 1137l9 -7M1465 1176l10 -3M1691 1172l1 -12M1445 1161l13 -3M1652 1210l4 -7M1531 1218l11 -5M1531 1239l13 -6M1697 1139l0 -13" stroke="#0c78f0" stroke-width="5" fill="none"/>
<path d="M1286 1197l37 -2M1386 1258l28 -4M1413 1192l29 -5M1412 1252l29 -5M1400 1248l18 -3M1585 1141l8 -6" stroke="#1878f0" stroke-width="2" fill="none"/>
<path d="M1478 1254l7 -2M1438 1249l9 -2M1603 1135l5 -5M1589 1252l9 -7M1466 1244l10 -3M1570 1245l6 -4M1235 1259l29 -1M1445 1258l26 -6M1185 1205l28 -1M1255 1261l29 -1" stroke="#1878f0" stroke-width="3" fill="none"/>
<path d="M1684 1224l2 -11M1494 1253l12 -4M1609 1151l10 -10M1563 1234l8 -5M1643 1197l5 -8M1610 1206l7 -7M1649 1201l6 -11M1602 1198l8 -7M1819 1108l6 5" stroke="#1878f0" stroke-width="4" fill="none"/>
<path d="M1489 1169l9 -3M1491 1264l13 -4M1538 1257l9 -4M1502 1234l9 -3M1709 1175l2 11M1497 1268l10 -3M1450 1245l8 -2" stroke="#1878f0" stroke-width="5" fill="none"/>
<path d="M1379 1268l32 -4M1401 1268l34 -6M1321 1265l15 -1M1380 1184l20 -3M1250 1256l35 -2M1336 1190l17 -2M1265 1257l15 -1M1203 1273l19 -1M1339 1275l18 -2M1373 1272l26 -3M1201 1261l31 -1M1225 1199l25 -1M1402 1181l38 -7M1713 1145l2 8M1537 1168l7 -3M1547 1155l11 -6" stroke="#1884f0" stroke-width="2" fill="none"/>
<path d="M1621 1141l5 -6M1437 1255l8 -2M1572 1222l8 -6M1467 1186l7 -2M1494 1179l10 -3M1441 1242l8 -2M1626 1196l6 -8M1303 1205l23 -2M1433 1169l32 -7M1408 1277l37 -7M1373 1268l26 -3M1331 1202l15 -1M1235 1266l36 -2M1375 1200l29 -4M1359 1252l31 -4M1321 1267l26 -2M1523 1167l9 -4M1263 1197l11 -1M1502 1163l15 -5M1579 1152l12 -9M1457 1174l10 -2M1680 1109l3 -11M1426 1178l13 -3M1656 1109l4 -8" stroke="#1884f0" stroke-width="3" fill="none"/>
<path d="M1464 1266l14 -4M1639 1204l4 -7M1458 1161l9 -2M1633 1189l7 -10M1487 1256l8 -2M1630 1148l5 -7M1590 1153l6 -4M1623 1194l8 -10M1474 1272l14 -4M1520 1221l10 -4M1489 1234l12 -4M1641 1225l6 -9M1569 1213l9 -6M1574 1166l8 -6M1820 1109l10 8" stroke="#1884f0" stroke-width="4" fill="none"/>
<path d="M1530 1261l7 -3M1644 1217l4 -6M1486 1229l12 -4M1577 1163l10 -7M1447 1282l13 -3M1602 1198l8 -7M1487 1237l10 -3M1611 1238l5 -5M1670 1131l2 -7M1607 1223l7 -7M1517 1279l12 -5M1574 1159l12 -8M1620 1131l7 -8M1581 1202l6 -4M1537 1243l13 -6M1626 1190l7 -9M1630 1185l5 -6M1645 1197l5 -8M1563 1224l9 -6M1705 1198l1 8M1573 1163l8 -6M1591 1221l11 -9M1514 1267l7 -3" stroke="#1884f0" stroke-width="5" fill="none"/>
<path d="M1377 1198l21 -3M1388 1178l15 -2M1386 1275l30 -4M1424 1274l31 -6M1708 1147l2 13M1709 1182l2 11" stroke="#1890f0" stroke-width="2" fill="none"/>
<path d="M1646 1188l4 -7M1639 1135l7 -10M1573 1152l8 -5M1700 1165l1 12M1504 1242l11 -4M1576 1166l8 -5M1444 1183l12 -3M1551 1144l8 -4M1211 1269l34 -1M1424 1250l38 -8M1443 1189l30 -7M1733 1139l4 10M1617 1133l9 -10" stroke="#1890f0" stroke-width="3" fill="none"/>
<path d="M1596 1151l11 -9M1675 1127l3 -9M1697 1176l0 10M1640 1179l5 -8M1438 1265l7 -1M1521 1168l9 -4" stroke="#1890f0" stroke-width="4" fill="none"/>
<path d="M1539 1175l7 -3M1586 1207l7 -5M1446 1169l9 -2M1688 1147l2 -12M1695 1167l0 -8M1464 1186l8 -2M1666 1187l4 -11M1658 1206l5 -10M1664 1174l3 -9M1626 1134l8 -10M1578 1225l12 -9M1577 1255l8 -6M1635 1196l7 -9" stroke="#1890f0" stroke-width="5" fill="none"/>
<path d="M1487 1162l14 -4M1693 1127l1 -8M1241 1194l35 -2M1279 1250l33 -2M1332 1251l36 -3" stroke="#1890fc" stroke-width="3" fill="none"/>
<path d="M1449 1175l8 -2M1613 1152l7 -7M1453 1244l11 -2M1434 1267l15 -3M1604 1202l7 -6" stroke="#1890fc" stroke-width="4" fill="none"/>
<path d="M1537 1164l7 -3M1585 1138l10 -8" stroke="#1890fc" stroke-width="5" fill="none"/>
<path d="M1308 1253l18 -1M1384 1192l34 -5M1389 1276l15 -2M1214 1263l26 -1M1347 1271l15 -2M1328 1191l28 -3M1423 1245l29 -6M1697 1133l0 -8M1490 1170l13 -4" stroke="#2490fc" stroke-width="2" fill="none"/>
<path d="M1487 1267l10 -3M1670 1197l2 -7M1658 1144l3 -7M1665 1136l3 -8M1706 1134l1 7M1507 1172l11 -4M1483 1249l9 -3M1682 1206l2 -12M1685 1129l1 -8M1521 1173l11 -5M1296 1264l18 -1M1360 1260l23 -3M1445 1271l30 -7M1305 1196l18 -1M1417 1198l17 -3M1343 1197l7 -1M1562 1165l9 -5M1414 1184l7 -1" stroke="#2490fc" stroke-width="3" fill="none"/>
<path d="M1618 1212l7 -8M1698 1186l0 8M1509 1245l7 -3M1620 1146l5 -5M1687 1172l2 -11M1777 1121l5 6" stroke="#2490fc" stroke-width="4" fill="none"/>
<path d="M1580 1209l7 -5M1677 1198l3 -14M1609 1127l9 -9M1495 1269l7 -2M1541 1269l11 -5M1675 1177l3 -11M1646 1211l5 -8M1602 1198l9 -8M1480 1160l7 -2" stroke="#2490fc" stroke-width="5" fill="none"/>
<path d="M1203 1255l21 -1M1282 1274l31 -2M1333 1189l38 -4M1419 1187l22 -4M1251 1272l19 -1M1449 1253l17 -4M1354 1277l23 -2" stroke="#249cfc" stroke-width="2" fill="none"/>
<path d="M1599 1220l6 -5M1602 1199l8 -8M1494 1228l14 -5M1656 1195l4 -8M1633 1149l6 -8M1684 1186l2 -9M1509 1231l13 -5M1529 1157l12 -5M1449 1236l14 -3M1483 1233l14 -4M1678 1191l2 -8M1580 1209l9 -7M1705 1199l2 14M1677 1196l3 -13M1449 1275l12 -3M1322 1251l24 -2M1416 1253l29 -5M1237 1251l25 -1M1270 1272l28 -2M1354 1255l38 -4M1400 1272l19 -3M1346 1203l28 -3M1389 1251l37 -6M1316 1264l27 -2M1270 1256l16 -1M1673 1125l2 -6M1490 1168l9 -3M1637 1147l7 -11M1678 1134l3 -12M1532 1167l12 -6" stroke="#249cfc" stroke-width="3" fill="none"/>
<path d="M1519 1231l10 -4M1480 1246l8 -2M1543 1248l11 -5M1499 1173l8 -3M1623 1149l5 -6M1660 1188l5 -11M1704 1117l1 7M1610 1236l8 -8M1608 1155l5 -5M1620 1139l7 -8M1651 1203l5 -9M1706 1171l1 8M1688 1145l2 -13M1568 1265l7 -5M1606 1210l10 -9" stroke="#249cfc" stroke-width="4" fill="none"/>
<path d="M1528 1222l7 -3M1673 1179l3 -10M1679 1185l3 -13M1519 1171l10 -4M1695 1178l1 -15M1600 1150l7 -7M1696 1183l0 -7M1517 1221l12 -5M1470 1260l10 -3M1479 1253l11 -3M1539 1220l13 -6M1576 1245l7 -5" stroke="#249cfc" stroke-width="5" fill="none"/>
<path d="M1391 1273l38 -6" stroke="#309cfc" stroke-width="3" fill="none"/>
<path d="M1326 1174l36 -3M1209 1265l15 -0M1654 1104l4 -9" stroke="#30a8fc" stroke-width="2" fill="none"/>
<path d="M1706 1130l1 11M1635 1181l8 -11M1546 1232l9 -4M1290 1272l31 -2M1250 1271l28 -1M1624 1142l4 -5M1688 1142l2 -12" stroke="#30a8fc" stroke-width="3" fill="none"/>
<path d="M1436 1271l9 -2M1674 1188l2 -7M1701 1180l1 11M1641 1130l8 -12M1451 1165l14 -3M1692 1162l1 -9" stroke="#30a8fc" stroke-width="4" fill="none"/>
<path d="M1499 1181l8 -3M1619 1148l5 -6" stroke="#30a8fc" stroke-width="5" fill="none"/>
<path d="M1140 1232l21 -0M1362 1174l33 -4M1299 1281l39 -3M1377 1184l18 -2M1221 1199l37 -1M1373 1267l33 -4M1281 1193l10 -1" stroke="#3ca8fc" stroke-width="2" fill="none"/>
<path d="M1694 1136l1 -9M1494 1272l13 -4M1467 1238l8 -2M1604 1136l11 -10M1466 1261l11 -3M1642 1231l5 -8M1208 1256l24 -1M1382 1250l30 -4M1369 1263l33 -4M1389 1194l9 -1" stroke="#3ca8fc" stroke-width="3" fill="none"/>
<path d="M1449 1248l13 -3M1671 1139l3 -8" stroke="#3ca8fc" stroke-width="4" fill="none"/>
<path d="M1613 1231l6 -6M1651 1221l3 -7M1619 1196l6 -7" stroke="#3ca8fc" stroke-width="5" fill="none"/>
<path d="M1351 1255l36 -4M1442 1188l24 -5M1423 1193l37 -7M1199 1201l40 -1M1657 1116l6 -14" stroke="#48a8fc" stroke-width="2" fill="none"/>
<path d="M1299 1255l39 -3M1425 1274l19 -4M1379 1266l26 -3M1725 1140l4 12M1616 1137l4 -5M1654 1119l6 -12M1644 1110l7 -13M1375 1197l13 -2" stroke="#48a8fc" stroke-width="3" fill="none"/>
<path d="M1666 1191l2 -7M1680 1203l2 -7" stroke="#48a8fc" stroke-width="4" fill="none"/>
<path d="M1496 1182l11 -4M1668 1226l3 -10M1493 1263l8 -2M1682 1142l2 -12M1692 1205l1 -12" stroke="#48a8fc" stroke-width="5" fill="none"/>
<path d="M1295 1251l33 -2M1427 1267l29 -6M1262 1261l33 -2M1669 1103l2 -7" stroke="#48b4fc" stroke-width="2" fill="none"/>
<path d="M1251 1262l26 -1M1593 1151l10 -8" stroke="#48b4fc" stroke-width="3" fill="none"/>
<path d="M1447 1270l11 -2M1668 1141l4 -13M1498 1245l8 -3" stroke="#48b4fc" stroke-width="4" fill="none"/>
<path d="M1571 1231l11 -7M1678 1185l2 -9" stroke="#48b4fc" stroke-width="5" fill="none"/>
<path d="M1207 1268l37 -1M1401 1262l23 -4M1348 1259l23 -2M1413 1178l10 -2" stroke="#54b4fc" stroke-width="2" fill="none"/>
<path d="M1675 1209l2 -7M1612 1275l9 -9M1657 1131l4 -9M1371 1190l30 -4M1699 1111l1 9" stroke="#54b4fc" stroke-width="3" fill="none"/>
<path d="M1589 1136l8 -6M1710 1153l2 12" stroke="#54b4fc" stroke-width="4" fill="none"/>
<path d="M1496 1255l8 -3M1460 1180l12 -3M1680 1180l2 -8M1579 1231l11 -8" stroke="#54b4fc" stroke-width="5" fill="none"/>
<path d="M1275 1260l18 -1M1388 1199l32 -5" stroke="#60b4fc" stroke-width="2" fill="none"/>
<path d="M1623 1146l6 -7M1685 1141l1 -9M1512 1233l9 -3M1486 1272l10 -3M1426 1245l19 -4M1394 1199l22 -3" stroke="#60b4fc" stroke-width="3" fill="none"/>
<path d="M1598 1148l10 -9M1453 1187l14 -3M1695 1130l1 -14M1590 1243l8 -7M1479 1182l7 -2M1675 1195l2 -7M1538 1222l10 -5M1624 1200l7 -8M1552 1211l8 -4M1708 1126l1 8" stroke="#60b4fc" stroke-width="4" fill="none"/>
<path d="M1445 1247l11 -2M1693 1142l1 -9" stroke="#60b4fc" stroke-width="5" fill="none"/>
<path d="M1519 1175l7 -3M1539 1231l7 -3" stroke="#60c0fc" stroke-width="3" fill="none"/>
<path d="M1610 1144l10 -11M1514 1177l13 -5" stroke="#60c0fc" stroke-width="4" fill="none"/>
<path d="M1625 1243l6 -7M1436 1244l13 -3M1575 1232l9 -6" stroke="#60c0fc" stroke-width="5" fill="none"/>
<path d="M1219 1260l17 -1M1421 1250l17 -3M1716 1148l3 11" stroke="#6cc0fc" stroke-width="2" fill="none"/>
<path d="M1667 1178l3 -8M1666 1188l4 -12M1678 1140l2 -10M1670 1191l4 -13M1678 1133l2 -9M1706 1130l1 7M1697 1198l0 -8M1647 1211l4 -6M1424 1246l34 -7M1319 1197l18 -1M1283 1268l28 -2" stroke="#6cc0fc" stroke-width="3" fill="none"/>
<path d="M1535 1216l10 -5M1615 1214l7 -7M1677 1177l2 -8" stroke="#6cc0fc" stroke-width="4" fill="none"/>
<path d="M1585 1284l9 -7M1699 1160l1 14M1635 1243l7 -10" stroke="#6cc0fc" stroke-width="5" fill="none"/>
<path d="M1398 1245l32 -5M1341 1266l17 -2" stroke="#78c0fc" stroke-width="2" fill="none"/>
<path d="M1495 1243l13 -4M1710 1133l2 12M1412 1183l24 -4M1390 1195l20 -3" stroke="#78c0fc" stroke-width="3" fill="none"/>
<path d="M1655 1223l5 -11M1566 1228l10 -6" stroke="#78c0fc" stroke-width="4" fill="none"/>
<path d="M1607 1152l6 -5" stroke="#78c0fc" stroke-width="5" fill="none"/>
<path d="M1407 1262l32 -5" stroke="#84c0fc" stroke-width="2" fill="none"/>
<path d="M1703 1130l1 14M1279 1204l18 -1" stroke="#84c0fc" stroke-width="3" fill="none"/>
<path d="M1655 1175l6 -13M1629 1223l7 -10" stroke="#84c0fc" stroke-width="4" fill="none"/>
<path d="M1595 1241l10 -8M1477 1247l11 -3" stroke="#84c0fc" stroke-width="5" fill="none"/>
<path d="M1212 1252l21 -1" stroke="#84ccfc" stroke-width="2" fill="none"/>
<path d="M1513 1167l13 -5M1540 1226l12 -6M1424 1174l14 -3M1408 1255l22 -4M1153 1227l35 -1M1240 1255l26 -1M1691 1145l1 -15" stroke="#84ccfc" stroke-width="3" fill="none"/>
<path d="M1684 1132l2 -11M1696 1137l1 -11M1525 1178l9 -4M1444 1247l12 -3M1447 1269l14 -3" stroke="#84ccfc" stroke-width="4" fill="none"/>
<path d="M1654 1181l5 -9M1654 1188l5 -10M1449 1182l9 -2" stroke="#84ccfc" stroke-width="5" fill="none"/>
<path d="M1398 1185l27 -4M1355 1198l31 -3M1334 1198l9 -1" stroke="#90ccfc" stroke-width="2" fill="none"/>
<path d="M1596 1161l10 -8M1523 1237l10 -4M1697 1196l0 7M1582 1161l9 -7M1439 1241l15 -3M1362 1195l14 -2M1234 1202l40 -2M1203 1244l19 -1M1394 1251l35 -5M1288 1271l22 -1" stroke="#90ccfc" stroke-width="3" fill="none"/>
<path d="M1685 1166l2 -12M1566 1242l11 -7" stroke="#90ccfc" stroke-width="4" fill="none"/>
<path d="M1550 1248l7 -4M1591 1221l8 -6" stroke="#90ccfc" stroke-width="5" fill="none"/>
<path d="M1508 1223l12 -4M1299 1268l16 -1" stroke="#9cccfc" stroke-width="3" fill="none"/>
<path d="M1435 1196l13 -3" stroke="#9cccfc" stroke-width="5" fill="none"/>
<path d="M1204 1261l33 -1" stroke="#9cd8fc" stroke-width="2" fill="none"/>
<path d="M1510 1166l8 -3M1674 1137l2 -8M1595 1212l11 -9M1365 1248l38 -5M1235 1269l22 -1" stroke="#9cd8fc" stroke-width="3" fill="none"/>
<path d="M1249 1201l15 -1M1287 1250l19 -1M1193 1239l24 -1" stroke="#a8d8fc" stroke-width="2" fill="none"/>
<path d="M1536 1173l10 -5M1609 1138l8 -8M1587 1161l11 -9M1533 1222l12 -6M1513 1178l11 -4M1630 1218l4 -6M1603 1149l8 -8M1295 1199l22 -1M1405 1197l29 -5M1254 1201l23 -1M1668 1118l2 -6" stroke="#a8d8fc" stroke-width="3" fill="none"/>
<path d="M1701 1186l1 13M1640 1181l4 -6M1520 1251l11 -4M1499 1239l13 -4M1624 1190l8 -10M1565 1221l9 -6" stroke="#a8d8fc" stroke-width="4" fill="none"/>
<path d="M1542 1229l9 -4M1710 1121l1 8M1628 1140l9 -12M1573 1214l9 -6" stroke="#a8d8fc" stroke-width="5" fill="none"/>
<path d="M1450 1244l11 -3M1359 1254l20 -2M1254 1202l33 -2M1213 1268l35 -1M1663 1120l5 -12" stroke="#b4d8fc" stroke-width="3" fill="none"/>
<path d="M1676 1173l3 -11M1661 1191l5 -12M1477 1241l10 -3" stroke="#b4d8fc" stroke-width="4" fill="none"/>
<path d="M1700 1147l1 12M1687 1127l2 -12M1519 1277l9 -4M1514 1220l9 -3M1422 1174l26 -5M1264 1251l23 -1M1541 1167l9 -5M1701 1132l1 7" stroke="#c0e4fc" stroke-width="3" fill="none"/>
<path d="M1611 1193l7 -7M1672 1137l3 -11" stroke="#c0e4fc" stroke-width="4" fill="none"/>
<path d="M1587 1161l12 -9M1465 1272l12 -3M1613 1193l9 -9M1679 1128l2 -8M1625 1198l9 -11" stroke="#c0e4fc" stroke-width="5" fill="none"/>
<path d="M1301 1272l27 -2" stroke="#cce4fc" stroke-width="2" fill="none"/>
<path d="M1708 1122l2 12M1464 1252l8 -2M1427 1243l39 -8" stroke="#cce4fc" stroke-width="3" fill="none"/>
<path d="M1463 1264l8 -2M1607 1211l10 -9M1638 1186l6 -9M1687 1133l1 -11M1527 1219l9 -4" stroke="#cce4fc" stroke-width="5" fill="none"/>
<path d="M1357 1253l37 -4M1690 1144l2 -15" stroke="#d8f0fc" stroke-width="2" fill="none"/>
<path d="M1471 1235l8 -2M1695 1172l1 -14M1644 1145l4 -7M1577 1230l6 -4M1730 1148l2 6" stroke="#d8f0fc" stroke-width="3" fill="none"/>
<path d="M1667 1196l3 -9M1483 1258l9 -3M1520 1256l13 -6M1505 1264l12 -4M1625 1217l8 -9M1545 1173l12 -6" stroke="#d8f0fc" stroke-width="4" fill="none"/>
<path d="M1707 1146l2 12M1504 1170l13 -5M1480 1251l8 -2" stroke="#d8f0fc" stroke-width="5" fill="none"/>
<path d="M1236 1263l34 -2M1341 1273l39 -4M1664 1131l3 -8" stroke="#e4f0fc" stroke-width="2" fill="none"/>
<path d="M1670 1200l4 -11M1387 1279l19 -3M1711 1118l1 8" stroke="#e4f0fc" stroke-width="3" fill="none"/>
<path d="M1688 1130l1 -10M1459 1258l9 -2M1701 1167l1 11" stroke="#e4f0fc" stroke-width="4" fill="none"/>
<path d="M1465 1274l12 -3M1691 1182l1 -9" stroke="#e4f0fc" stroke-width="5" fill="none"/>
<path d="M1533 1243l13 -6M1665 1131l2 -6" stroke="#f0f0fc" stroke-width="3" fill="none"/>
<path d="M1518 1176l12 -5M1420 1196l15 -3M1433 1185l15 -3" stroke="#f0fcfc" stroke-width="3" fill="none"/>
<path d="M1644 1148l4 -7M1551 1168l13 -7M1665 1146l4 -12" stroke="#f0fcfc" stroke-width="4" fill="none"/>
<path d="M1641 1145l7 -11M1627 1203l4 -6" stroke="#f0fcfc" stroke-width="5" fill="none"/>
<path d="M1269 1209l39 -2M1333 1206l26 -2M1265 1249l24 -1M1294 1208l28 -2M1220 1209l18 -1M1399 1200l36 -6M1232 1209l20 -1M1439 1195l20 -4M1402 1197l34 -6M1439 1240l37 -8M1398 1275l37 -6M1401 1245l24 -4M1421 1197l24 -5M1411 1275l25 -4M1234 1209l28 -1M1149 1231l25 -1M1154 1232l20 -0M1214 1257l22 -1M1184 1211l35 -1M1423 1193l24 -5M1263 1206l22 -1M1450 1263l14 -3M1230 1248l30 -1M1170 1218l27 -1M1706 1120l1 10M1630 1148l8 -11M1607 1153l8 -8M1535 1171l13 -6M1562 1158l13 -8" stroke="#fcfcfc" stroke-width="2" fill="none"/>
<path d="M1476 1231l10 -3M1476 1174l7 -2M1555 1172l8 -5M1628 1149l6 -8M1651 1174l5 -9M1602 1194l10 -9M1433 1258l14 -3M1636 1191l5 -8M1697 1210l0 -12M1703 1126l1 11M1505 1236l9 -3M1578 1212l10 -7M1446 1154l12 -3M1671 1167l3 -8M1681 1174l2 -10M1469 1234l11 -3M1618 1188l9 -10M1691 1142l1 -12M1631 1224l8 -11M1668 1198l3 -9M1624 1222l9 -11M1492 1184l11 -3M1667 1174l4 -11M1662 1129l3 -7M1651 1148l5 -10M1710 1137l2 13M1536 1240l8 -4M1559 1214l11 -7M1448 1192l10 -2M1536 1214l10 -5M1679 1211l3 -13M1689 1182l1 -11M1464 1234l9 -2M1651 1206l7 -13M1531 1223l7 -3M1704 1119l1 12M1539 1214l13 -7M1484 1152l9 -3M1485 1185l10 -3M1622 1195l7 -8M1527 1257l12 -5M1488 1184l7 -2M1510 1236l7 -3M1664 1191l4 -9M1614 1201l7 -8M1468 1247l9 -2M1587 1232l10 -8M1669 1126l3 -8M1582 1206l6 -4M1643 1191l7 -11M1535 1224l7 -3M1494 1260l7 -2M1520 1178l7 -3M1707 1201l1 7M1672 1179l3 -10M1478 1232l11 -3M1466 1243l11 -3M1500 1247l13 -4M1538 1174l13 -6M1563 1168l12 -8M1677 1133l3 -12M1690 1145l1 -12M1563 1215l6 -4M1660 1146l4 -10M1619 1230l8 -9M1546 1228l12 -6M1389 1201l17 -2M1377 1191l23 -3M1341 1204l19 -2M1429 1197l38 -8M1244 1208l17 -1M1234 1209l39 -2M1418 1244l21 -4M1272 1193l24 -1M1386 1257l36 -5M1353 1248l34 -4M1274 1250l37 -2M1200 1239l16 -1M1238 1249l32 -1M1404 1247l22 -4M1274 1208l37 -2M1252 1248l33 -2M1317 1261l27 -2M1276 1207l14 -1M1262 1208l34 -2M1397 1253l31 -5M1321 1249l19 -2M1270 1208l22 -1M1302 1207l23 -2M1417 1243l21 -4M1327 1206l39 -4M1726 1146l4 13M1708 1123l1 10M1708 1139l1 6M1375 1192l11 -1M1665 1127l2 -6M1559 1167l11 -7M1690 1125l1 -8M1656 1127l6 -13M1646 1120l6 -10" stroke="#fcfcfc" stroke-width="3" fill="none"/>
<path d="M1565 1205l8 -5M1483 1185l14 -4M1664 1182l3 -8M1514 1251l14 -5M1674 1130l3 -10M1546 1216l10 -5M1438 1249l13 -3M1477 1269l14 -4M1511 1230l7 -3M1444 1239l7 -1M1603 1196l10 -10M1511 1232l12 -4M1497 1269l9 -3M1628 1142l6 -7M1553 1224l11 -6M1533 1223l7 -3M1537 1216l11 -5M1487 1236l13 -4M1603 1206l10 -9M1663 1183l5 -13M1661 1195l3 -8M1680 1204l3 -14M1535 1221l10 -5M1455 1237l9 -2M1675 1135l3 -9M1628 1194l8 -11M1568 1210l8 -5M1625 1191l5 -6M1531 1240l9 -4M1645 1138l4 -7M1663 1144l4 -9M1690 1178l1 -8M1579 1205l11 -8M1614 1198l9 -10M1661 1180l5 -12M1614 1193l8 -8M1617 1151l6 -6M1556 1223l13 -7M1575 1211l9 -6M1700 1156l1 11M1572 1169l12 -8M1611 1155l9 -9M1601 1157l8 -7M1655 1175l6 -12M1622 1189l6 -7M1542 1242l13 -7M1471 1174l11 -3M1645 1188l4 -7M1686 1162l1 -7M1586 1202l12 -9M1664 1142l3 -8M1697 1184l1 -15M1542 1174l11 -5M1660 1248l3 -7M1494 1226l8 -3M1666 1172l4 -11M1685 1143l2 -9M1733 1153l4 9M1714 1152l1 6M1726 1140l4 12M1727 1152l3 8M1792 1128l9 9" stroke="#fcfcfc" stroke-width="4" fill="none"/>
<path d="M1678 1171l3 -12M1568 1216l12 -8M1547 1236l9 -4M1649 1202l4 -7M1711 1134l2 14M1590 1210l11 -9M1538 1244l10 -5M1475 1174l10 -3M1645 1211l7 -11M1489 1233l10 -3M1677 1146l3 -13M1501 1224l10 -3M1648 1142l4 -6M1502 1239l7 -2M1603 1195l7 -7M1617 1190l10 -11M1586 1163l12 -9M1592 1197l10 -8M1677 1144l3 -10M1533 1157l11 -5M1476 1181l14 -4M1520 1219l11 -5M1477 1188l13 -4M1620 1150l7 -8M1438 1271l12 -3M1677 1208l2 -9M1514 1178l11 -4M1668 1180l4 -11M1621 1199l8 -9M1639 1127l8 -12M1667 1178l4 -11M1649 1194l5 -10M1619 1188l9 -10M1673 1141l3 -10M1435 1196l14 -3M1558 1224l7 -4M1709 1155l2 14M1461 1236l14 -4M1452 1270l11 -2M1516 1220l14 -5M1542 1230l11 -6M1673 1129l3 -10M1592 1206l9 -8M1671 1128l3 -10M1509 1228l9 -3M1558 1171l7 -4M1689 1143l1 -12M1478 1231l8 -2M1666 1190l4 -12M1464 1257l9 -2M1625 1150l6 -7M1448 1261l13 -3M1627 1191l9 -11M1498 1182l8 -3M1470 1239l8 -2M1546 1174l8 -4M1476 1269l11 -3M1604 1159l10 -9M1685 1167l2 -11M1677 1126l3 -11M1507 1233l12 -4M1505 1224l9 -3M1491 1261l8 -2M1510 1170l13 -5M1602 1195l10 -9M1552 1224l7 -4M1677 1129l3 -10M1471 1234l8 -2M1601 1157l7 -6M1678 1140l3 -14" stroke="#fcfcfc" stroke-width="5" fill="none"/>
</g>
<path d="M1060.0 1255.0L1106.0 1257.0L1168.0 1240.0L1200.0 1203.0L1236.0 1150.0L1300.0 1050.0L1400.0 900.0L1060.0 900.0Z" fill="#000" filter="url(#b1.5)"/>
<path d="M1220 1183L1330 1183" stroke="#2a90f0" stroke-width="2.5" filter="url(#b1)"/>
<path d="M1195 1190.5L1290 1190.5" stroke="#0a50d0" stroke-width="2.5" filter="url(#b1)"/>
<path d="M1211 1200.5L1300 1200.5" stroke="#3c9cf8" stroke-width="3.5" filter="url(#b1)"/>
<path d="M1250 1196L1420 1189" stroke="#0a64e0" stroke-width="2" filter="url(#b1)"/>
<path d="M1170 1247.5L1300 1247.5" stroke="#d8ecff" stroke-width="3" filter="url(#b1)"/>
<path d="M1310 1263.5L1402 1263.5" stroke="#e8f4ff" stroke-width="3" filter="url(#b1)"/>
<path d="M1150 1256L1330 1256" stroke="#3c9cf8" stroke-width="3" filter="url(#b1)"/>
<path d="M1230 1268L1450 1261" stroke="#0a50d0" stroke-width="3" filter="url(#b1)"/>
<path d="M1120 1281L1300 1281" stroke="#000c80" stroke-width="3" filter="url(#b1)"/>
<path d="M1426 1259L1506 1252" stroke="#e8f4ff" stroke-width="4" filter="url(#b1)"/>
<path d="M1262.0 1207.0C1268.3 1200.4 1285.3 1206.1 1300.0 1205.5C1314.7 1204.9 1333.3 1204.6 1350.0 1203.5C1366.7 1202.4 1385.0 1200.8 1400.0 1199.0C1415.0 1197.2 1425.3 1195.8 1440.0 1193.0C1454.7 1190.2 1468.5 1186.2 1488.0 1182.0C1507.5 1177.8 1538.3 1172.5 1557.0 1168.0C1575.7 1163.5 1588.3 1159.0 1600.0 1155.0C1611.7 1151.0 1616.0 1146.8 1627.0 1144.0C1638.0 1141.2 1654.8 1139.9 1666.0 1138.5C1677.2 1137.1 1687.7 1135.4 1694.0 1135.5C1700.3 1135.6 1703.0 1135.6 1704.0 1139.0C1705.0 1142.4 1706.3 1151.3 1700.0 1156.0C1693.7 1160.7 1678.2 1162.7 1666.0 1167.0C1653.8 1171.3 1638.0 1177.5 1627.0 1182.0C1616.0 1186.5 1611.7 1189.5 1600.0 1194.0C1588.3 1198.5 1575.7 1202.9 1557.0 1209.0C1538.3 1215.1 1507.5 1225.2 1488.0 1230.5C1468.5 1235.8 1454.7 1238.4 1440.0 1241.0C1425.3 1243.6 1415.0 1244.8 1400.0 1246.0C1385.0 1247.2 1366.7 1247.9 1350.0 1248.5C1333.3 1249.1 1313.3 1249.3 1300.0 1249.5C1286.7 1249.7 1276.3 1250.2 1270.0 1249.5C1263.7 1248.8 1263.3 1252.1 1262.0 1245.0C1260.7 1237.9 1255.7 1213.6 1262.0 1207.0Z" fill="#ffffff" filter="url(#b1.5)"/>
<path d="M1197.0 1206.5L1266.0 1206.5L1266.0 1249.5L1240.0 1249.0L1172.0 1246.5L1172.0 1242.0L1165.0 1236.0L1165.0 1231.0L1184.0 1222.0L1184.0 1219.0L1190.0 1215.5L1190.0 1212.0L1197.0 1210.0Z" fill="#ffffff" filter="url(#b0.6)"/>
<path d="M1186.0 1210.3L1186.0 1213.4L1240.0 1213.9Z" fill="#000000" filter="url(#b0.6)"/>
<path d="M1180.0 1217.3L1180.0 1221.3L1234.0 1221.8Z" fill="#000000" filter="url(#b0.6)"/>
<path d="M1160.0 1226.3L1160.0 1231.2L1230.0 1230.4Z" fill="#000000" filter="url(#b0.6)"/>
<path d="M1148.0 1237.3L1148.0 1241.7L1232.0 1242.0Z" fill="#000000" filter="url(#b0.6)"/>
<path d="M1158.0 1243.6L1158.0 1245.0L1262.0 1245.6Z" fill="#000000" filter="url(#b0.6)"/>
<path d="M1196.0 1203.6L1196.0 1206.0L1262.0 1206.3Z" fill="#000000" filter="url(#b0.6)"/>
<ellipse cx="1581.5" cy="1074" rx="10" ry="3.2" transform="rotate(-55 1581.5 1074)" fill="#8ccaff" filter="url(#b1.5)"/>
<ellipse cx="1581.5" cy="1074" rx="6" ry="1.6" transform="rotate(-55 1581.5 1074)" fill="#fff"/>
<path d="M163.0 1298.0L500.0 1291.0L800.0 1283.0L1100.0 1291.0L1400.0 1294.0L1837.0 1297.0L1837.0 1302.0L163.0 1302.0Z" fill="#000" filter="url(#b1.5)"/>
</g>
<path d="M163.5 768.90V1301.00M233.5 768.90V1301.00M303.5 768.90V1301.00M372.5 768.90V1301.00M442.5 768.90V1301.00M512.5 768.90V1301.00M582.5 768.90V1301.00M651.5 768.90V1301.00M721.5 768.90V1301.00M791.5 768.90V1301.00M861.5 768.90V1301.00M930.5 768.90V1301.00M1000.5 768.90V1301.00M1070.5 768.90V1301.00M1140.5 768.90V1301.00M1209.5 768.90V1301.00M1279.5 768.90V1301.00M1349.5 768.90V1301.00M1418.5 768.90V1301.00M1488.5 768.90V1301.00M1558.5 768.90V1301.00M1628.5 768.90V1301.00M1697.5 768.90V1301.00M1767.5 768.90V1301.00M1837.5 768.90V1301.00" stroke="#fff" stroke-width="3" stroke-dasharray="3.5 7.52" fill="none"/>
<path d="M163.60 820.5H1836.90M163.60 874.5H1836.90M163.60 927.5H1836.90M163.60 980.5H1836.90M163.60 1034.5H1836.90M163.60 1087.5H1836.90M163.60 1141.5H1836.90M163.60 1194.5H1836.90M163.60 1247.5H1836.90" stroke="#fff" stroke-width="3" stroke-dasharray="3.2 7.82" fill="none"/>
<path d="M1695.3 781.2V1301.0" stroke="#0a5fd2" stroke-width="3.7" stroke-dasharray="16 15.5" fill="none"/>
<path d="M138.3 767.0H1836.9" stroke="#000" stroke-width="1.4" fill="none"/>
<path d="M138.3 1301.0H1836.9" stroke="#222" stroke-width="1.4" fill="none"/>
<path d="M138.3 873.80H163.8M138.3 980.60H163.8M138.3 1087.40H163.8M138.3 1194.20H163.8" stroke="#222" stroke-width="1.5" fill="none"/>
<path d="M150.8 777.68H163.8M150.8 788.36H163.8M150.8 799.04H163.8M150.8 809.72H163.8M150.8 820.40H163.8M150.8 831.08H163.8M150.8 841.76H163.8M150.8 852.44H163.8M150.8 863.12H163.8M150.8 884.48H163.8M150.8 895.16H163.8M150.8 905.84H163.8M150.8 916.52H163.8M150.8 927.20H163.8M150.8 937.88H163.8M150.8 948.56H163.8M150.8 959.24H163.8M150.8 969.92H163.8M150.8 991.28H163.8M150.8 1001.96H163.8M150.8 1012.64H163.8M150.8 1023.32H163.8M150.8 1034.00H163.8M150.8 1044.68H163.8M150.8 1055.36H163.8M150.8 1066.04H163.8M150.8 1076.72H163.8M150.8 1098.08H163.8M150.8 1108.76H163.8M150.8 1119.44H163.8M150.8 1130.12H163.8M150.8 1140.80H163.8M150.8 1151.48H163.8M150.8 1162.16H163.8M150.8 1172.84H163.8M150.8 1183.52H163.8M150.8 1204.88H163.8M150.8 1215.56H163.8M150.8 1226.24H163.8M150.8 1236.92H163.8M150.8 1247.60H163.8M150.8 1258.28H163.8M150.8 1268.96H163.8M150.8 1279.64H163.8M150.8 1290.32H163.8" stroke="#333" stroke-width="1.5" fill="none"/>
<path d="M163.30 1301.0V1309.0M581.70 1301.0V1309.0M1000.10 1301.0V1309.0M1418.50 1301.0V1309.0M1836.90 1301.0V1309.0" stroke="#222" stroke-width="1.3" fill="none"/>
<path d="M233.03 1301.0V1305.0M302.77 1301.0V1305.0M372.50 1301.0V1305.0M442.23 1301.0V1305.0M511.97 1301.0V1305.0M651.43 1301.0V1305.0M721.17 1301.0V1305.0M790.90 1301.0V1305.0M860.63 1301.0V1305.0M930.37 1301.0V1305.0M1069.83 1301.0V1305.0M1139.57 1301.0V1305.0M1209.30 1301.0V1305.0M1279.03 1301.0V1305.0M1348.77 1301.0V1305.0M1488.23 1301.0V1305.0M1557.97 1301.0V1305.0M1627.70 1301.0V1305.0M1697.43 1301.0V1305.0M1767.17 1301.0V1305.0" stroke="#444" stroke-width="1.3" fill="none"/>
<text x="128.5" y="789.0" font-size="36" text-anchor="end">-40</text>
<text x="128.5" y="886.2" font-size="36" text-anchor="end">-50</text>
<text x="128.5" y="993.0" font-size="36" text-anchor="end">-60</text>
<text x="128.5" y="1099.8" font-size="36" text-anchor="end">-70</text>
<text x="128.5" y="1206.6" font-size="36" text-anchor="end">-80</text>
<text x="128.5" y="1301.5" font-size="36" text-anchor="end">-90</text>
<text x="163.3" y="1355.4" font-size="36" text-anchor="middle">0</text>
<text x="581.7" y="1355.4" font-size="36" text-anchor="middle">90</text>
<text x="1000.1" y="1355.4" font-size="36" text-anchor="middle">180</text>
<text x="1418.5" y="1355.4" font-size="36" text-anchor="middle">270</text>
<text x="1836.9" y="1355.4" font-size="36" text-anchor="middle">360</text>
<text x="1000" y="1395.1" font-size="36.2" text-anchor="middle">SIII Longitude (<tspan font-size="30" dy="-4">°</tspan><tspan dy="4">)</tspan></text>
<text x="1000.5" y="751.0" font-size="41.6" text-anchor="middle">Southern hemisphere</text>
<text transform="translate(47.4 1034.0) rotate(-90)" font-size="36.1" text-anchor="middle">Latitude (<tspan font-size="30" dy="-4">°</tspan><tspan dy="4">)</tspan></text>
<rect x="1851" y="1090.2" width="38.2" height="209" fill="url(#cb)" stroke="#000" stroke-width="2"/>
<path d="M1852 1294.4h2M1888.2 1294.4h-2M1852 1288.8h2M1888.2 1288.8h-2M1852 1283.1h2M1888.2 1283.1h-2M1852 1277.5h2M1888.2 1277.5h-2M1852 1271.9h5M1888.2 1271.9h-5M1852 1266.3h2M1888.2 1266.3h-2M1852 1260.7h2M1888.2 1260.7h-2M1852 1255.0h2M1888.2 1255.0h-2M1852 1249.4h2M1888.2 1249.4h-2M1852 1243.8h5M1888.2 1243.8h-5M1852 1238.2h2M1888.2 1238.2h-2M1852 1232.5h2M1888.2 1232.5h-2M1852 1226.9h2M1888.2 1226.9h-2M1852 1221.3h2M1888.2 1221.3h-2M1852 1215.7h5M1888.2 1215.7h-5M1852 1210.1h2M1888.2 1210.1h-2M1852 1204.4h2M1888.2 1204.4h-2M1852 1198.8h2M1888.2 1198.8h-2M1852 1193.2h2M1888.2 1193.2h-2M1852 1187.6h5M1888.2 1187.6h-5M1852 1182.0h2M1888.2 1182.0h-2M1852 1176.3h2M1888.2 1176.3h-2M1852 1170.7h2M1888.2 1170.7h-2M1852 1165.1h2M1888.2 1165.1h-2M1852 1159.5h5M1888.2 1159.5h-5M1852 1153.8h2M1888.2 1153.8h-2M1852 1148.2h2M1888.2 1148.2h-2M1852 1142.6h2M1888.2 1142.6h-2M1852 1137.0h2M1888.2 1137.0h-2M1852 1131.4h5M1888.2 1131.4h-5M1852 1125.7h2M1888.2 1125.7h-2M1852 1120.1h2M1888.2 1120.1h-2M1852 1114.5h2M1888.2 1114.5h-2M1852 1108.9h2M1888.2 1108.9h-2M1852 1103.3h5M1888.2 1103.3h-5M1852 1097.6h2M1888.2 1097.6h-2M1852 1092.0h2M1888.2 1092.0h-2M1858.6 1091v3M1866.3 1091v3M1873.9 1091v3M1881.6 1091v3" stroke="#000" stroke-width="1.4" fill="none"/>
<text x="1837.6" y="1077.5" font-size="30">kR H<tspan font-size="12.5" dx="-1.5" dy="4.2">2</tspan></text>
<text x="1897.8" y="1282.7" font-size="30">200</text>
<text x="1897.8" y="1254.6" font-size="30">400</text>
<text x="1897.8" y="1226.5" font-size="30">600</text>
<text x="1897.8" y="1198.4" font-size="30">800</text>
<text x="1897.8" y="1170.3" font-size="30">1000</text>
<text x="1897.8" y="1142.2" font-size="30">1200</text>
<text x="1897.8" y="1114.1" font-size="30">1400</text>
</svg></body></html>
